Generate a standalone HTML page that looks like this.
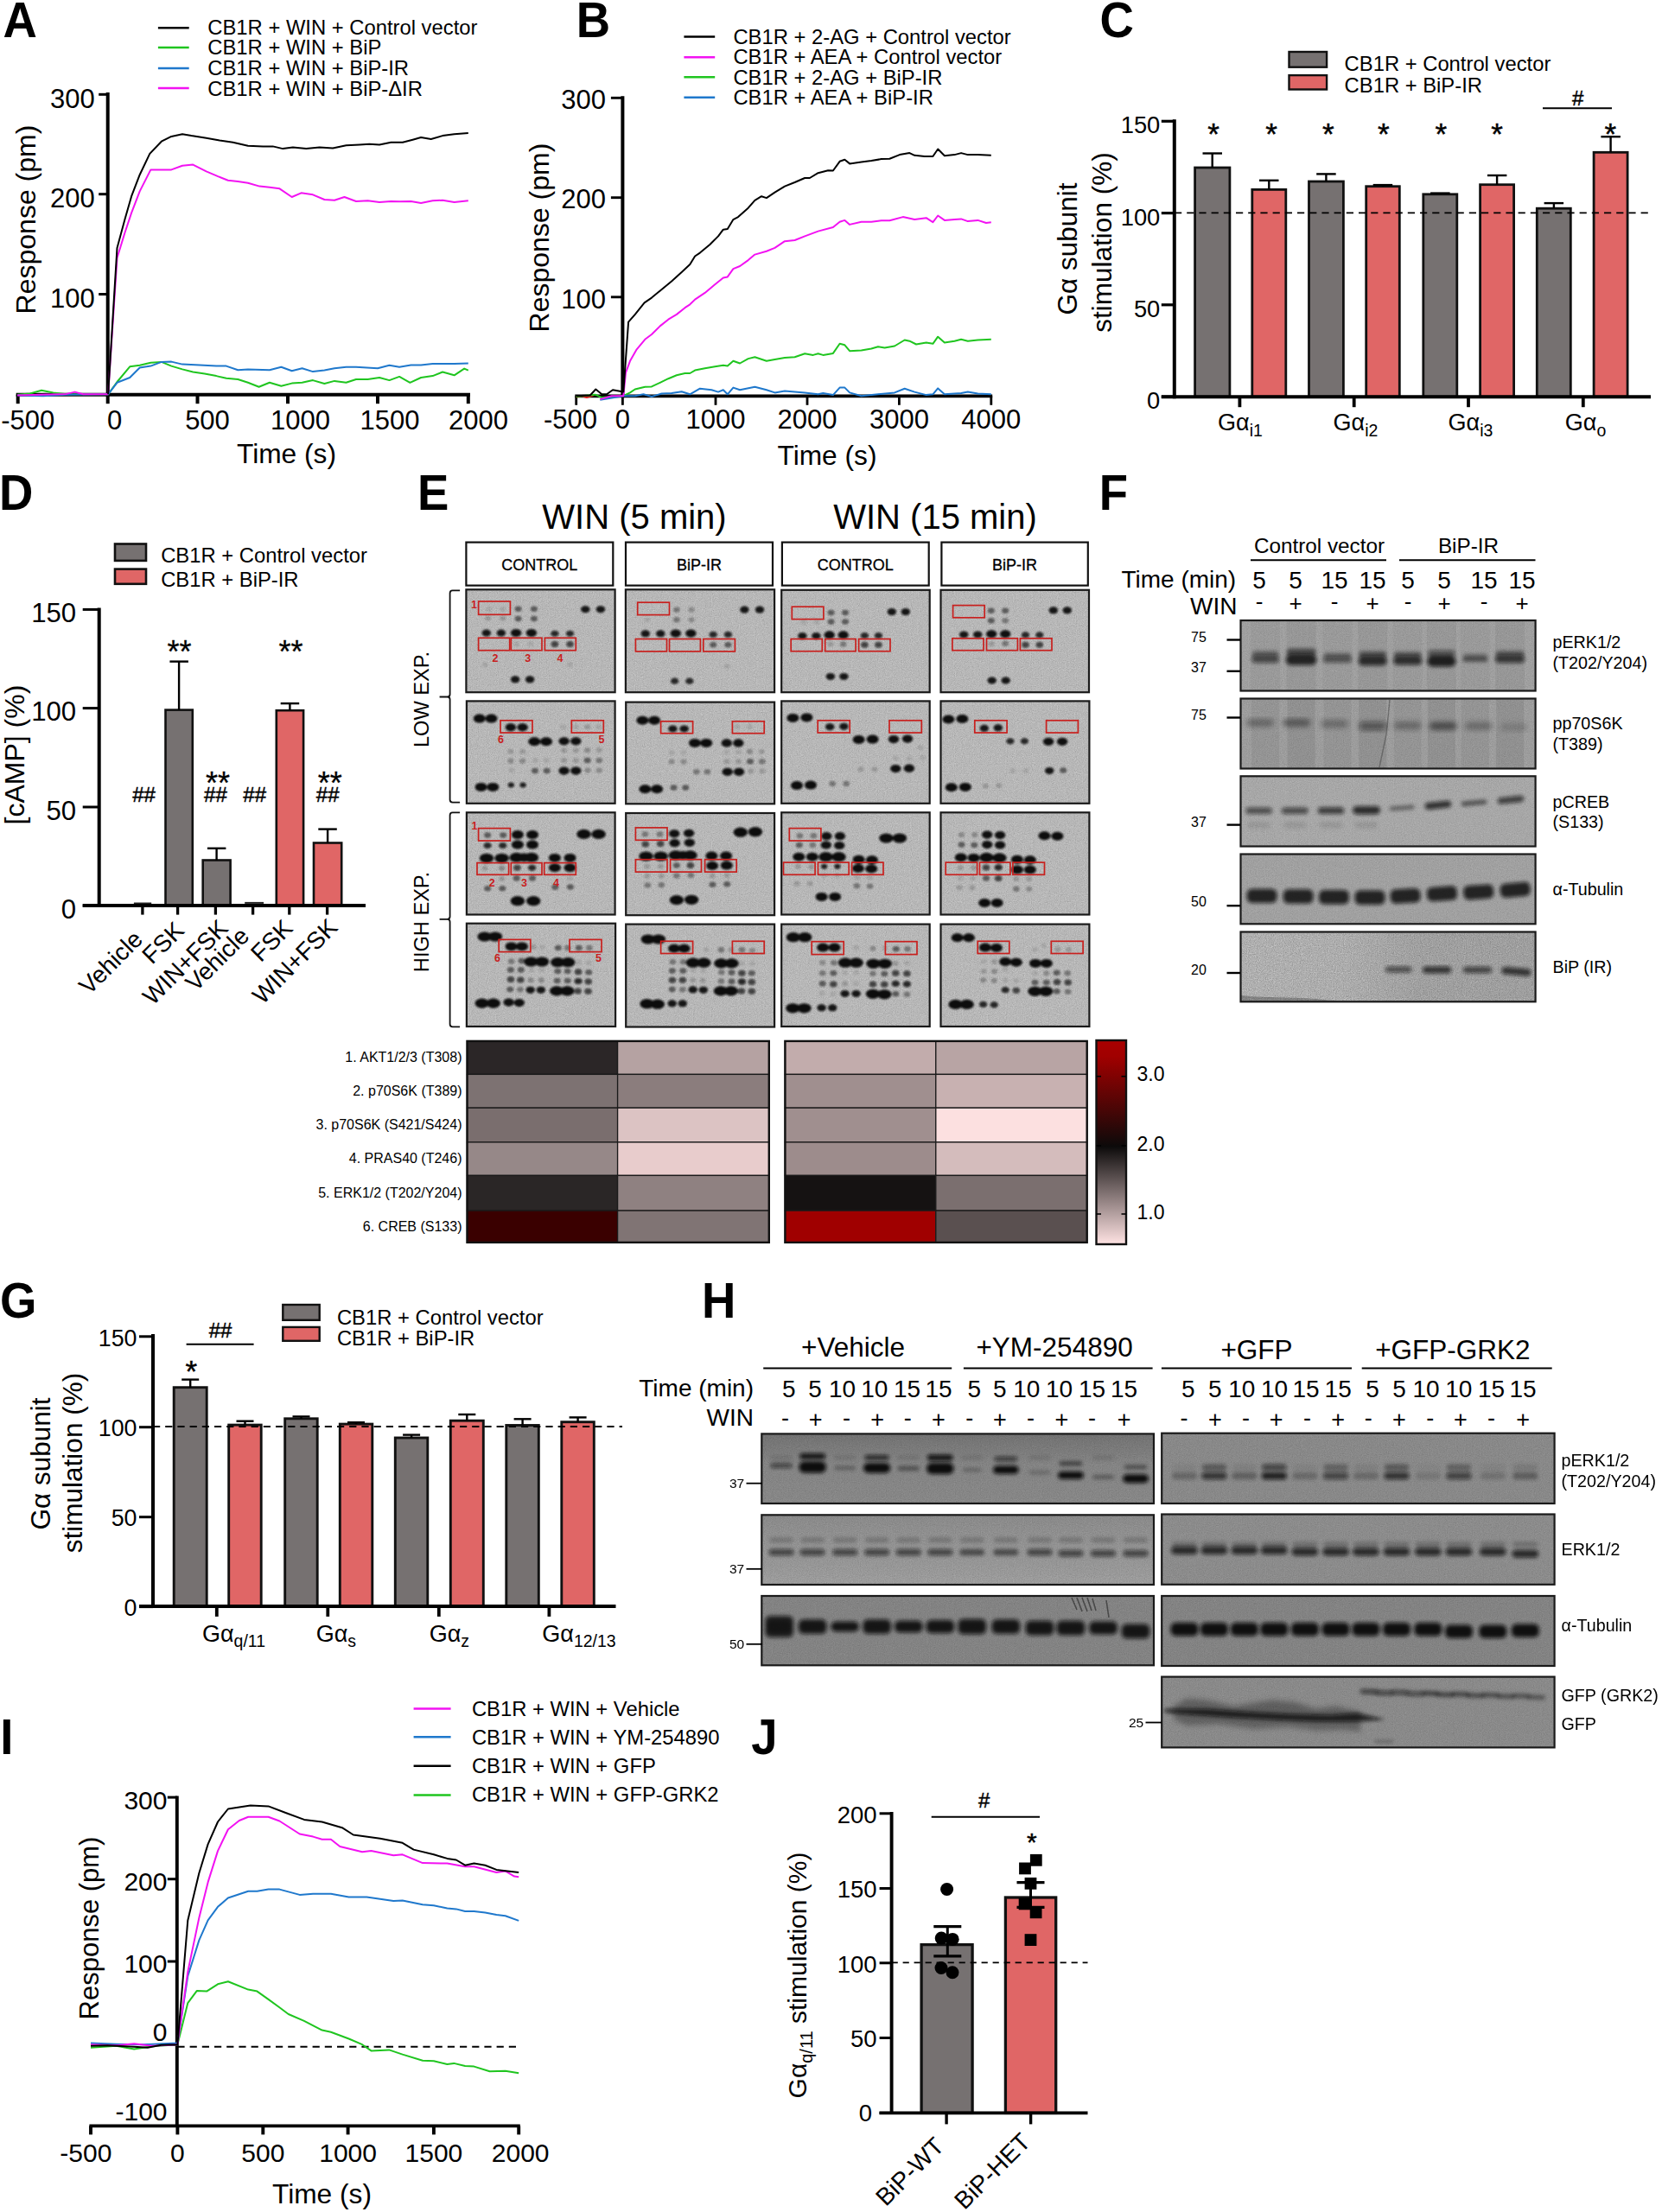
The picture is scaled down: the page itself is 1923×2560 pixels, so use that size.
<!DOCTYPE html>
<html lang="en"><head><meta charset="utf-8"><title>Figure</title>
<style>
html,body{margin:0;padding:0;background:#fff;}
body{width:1923px;height:2560px;overflow:hidden;}
svg{display:block;font-family:"Liberation Sans", sans-serif;}
</style></head><body>
<svg width="1923" height="2560" viewBox="0 0 1923 2560">
<defs>
<filter id="b1" x="-20%" y="-20%" width="140%" height="140%"><feGaussianBlur stdDeviation="1.1"/></filter>
<filter id="b2" x="-20%" y="-20%" width="140%" height="140%"><feGaussianBlur stdDeviation="2"/></filter>
<filter id="b3" x="-20%" y="-20%" width="140%" height="140%"><feGaussianBlur stdDeviation="3.2"/></filter>
<filter id="grain" x="0" y="0" width="100%" height="100%">
<feTurbulence type="fractalNoise" baseFrequency="0.9" numOctaves="2" seed="3" result="n"/>
<feColorMatrix in="n" type="matrix" values="0 0 0 0 0  0 0 0 0 0  0 0 0 0 0  0.9 0.9 0.9 0 -0.95" result="a"/>
<feComposite in="a" in2="SourceGraphic" operator="in"/>
</filter>
<filter id="grain2" x="0" y="0" width="100%" height="100%">
<feTurbulence type="fractalNoise" baseFrequency="0.9" numOctaves="2" seed="11" result="n"/>
<feColorMatrix in="n" type="matrix" values="0 0 0 0 1  0 0 0 0 1  0 0 0 0 1  0.9 0.9 0.9 0 -0.98" result="a"/>
<feComposite in="a" in2="SourceGraphic" operator="in"/>
</filter>
<linearGradient id="cbar" x1="0" y1="0" x2="0" y2="1">
<stop offset="0" stop-color="#a80000"/><stop offset="0.08" stop-color="#a00000"/>
<stop offset="0.52" stop-color="#0c0a0a"/><stop offset="1" stop-color="#ffe3e3"/>
</linearGradient>
</defs>
<rect width="1923" height="2560" fill="#fff"/>
<g id="panelA">
<text transform="translate(3.4 42.8) scale(0.96 1)" font-size="56.8" font-weight="bold">A</text>
<line x1="182.9" y1="32.3" x2="218.7" y2="32.3" stroke="#000" stroke-width="2.5"/>
<text x="240.3" y="39.7" font-size="23.8">CB1R + WIN + Control vector</text>
<line x1="182.9" y1="55.1" x2="218.7" y2="55.1" stroke="#1fc51f" stroke-width="2.5"/>
<text x="240.3" y="62.8" font-size="23.8">CB1R + WIN + BiP</text>
<line x1="182.9" y1="78.9" x2="218.7" y2="78.9" stroke="#1f78cc" stroke-width="2.5"/>
<text x="240.3" y="86.6" font-size="23.8">CB1R + WIN + BiP-IR</text>
<line x1="182.9" y1="102.0" x2="218.7" y2="102.0" stroke="#f212f2" stroke-width="2.5"/>
<text x="240.3" y="110.5" font-size="23.8">CB1R + WIN + BiP-ΔIR</text>
<line x1="124.7" y1="107.0" x2="124.7" y2="458.7" stroke="#000" stroke-width="4.0"/>
<line x1="18.7" y1="456.7" x2="544.0" y2="456.7" stroke="#000" stroke-width="4.0"/>
<line x1="114.2" y1="109.3" x2="124.7" y2="109.3" stroke="#000" stroke-width="3"/>
<text x="109.7" y="124.5" font-size="31" text-anchor="end">300</text>
<line x1="114.2" y1="224.7" x2="124.7" y2="224.7" stroke="#000" stroke-width="3"/>
<text x="109.7" y="239.9" font-size="31" text-anchor="end">200</text>
<line x1="114.2" y1="340.5" x2="124.7" y2="340.5" stroke="#000" stroke-width="3"/>
<text x="109.7" y="355.7" font-size="31" text-anchor="end">100</text>
<line x1="20.7" y1="456.7" x2="20.7" y2="467.2" stroke="#000" stroke-width="4.0"/>
<text x="32.3" y="497.0" font-size="31" text-anchor="middle">-500</text>
<line x1="124.7" y1="456.7" x2="124.7" y2="467.2" stroke="#000" stroke-width="4.0"/>
<text x="132.6" y="497.0" font-size="31" text-anchor="middle">0</text>
<line x1="228.5" y1="456.7" x2="228.5" y2="467.2" stroke="#000" stroke-width="4.0"/>
<text x="240.0" y="497.0" font-size="31" text-anchor="middle">500</text>
<line x1="333.0" y1="456.7" x2="333.0" y2="467.2" stroke="#000" stroke-width="4.0"/>
<text x="347.5" y="497.0" font-size="31" text-anchor="middle">1000</text>
<line x1="437.0" y1="456.7" x2="437.0" y2="467.2" stroke="#000" stroke-width="4.0"/>
<text x="451.0" y="497.0" font-size="31" text-anchor="middle">1500</text>
<line x1="541.8" y1="456.7" x2="541.8" y2="467.2" stroke="#000" stroke-width="4.0"/>
<text x="553.5" y="497.0" font-size="31" text-anchor="middle">2000</text>
<polyline points="20.0,456.7 34.7,455.5 48.1,451.7 61.6,454.4 77.0,456.3 125.1,456.3 135.5,442.0 150.2,424.3 161.7,422.8 174.4,419.7 186.8,418.9 198.3,423.6 211.0,427.4 223.3,430.5 236.8,432.4 250.3,435.1 261.8,437.8 275.3,439.0 286.9,442.8 299.6,447.8 311.9,442.8 325.4,446.7 337.7,443.6 349.6,442.8 362.0,440.1 375.4,444.0 387.0,440.9 400.5,442.8 412.0,439.0 425.5,439.0 439.0,437.0 450.5,440.1 462.1,435.9 474.4,442.8 487.1,437.0 500.6,435.1 512.1,430.5 525.6,434.3 537.2,426.6 541.8,428.6" fill="none" stroke="#1fc51f" stroke-width="2" stroke-linejoin="round"/>
<polyline points="20.0,457.5 50.1,458.2 77.0,456.7 125.1,456.3 135.5,442.8 150.2,437.0 161.7,425.5 174.4,423.6 186.8,418.9 198.3,418.6 211.0,421.6 231.0,422.4 250.3,423.6 261.8,423.6 275.3,428.2 286.9,427.4 311.9,428.2 325.4,424.7 337.7,429.3 349.6,426.3 362.0,430.1 375.4,428.6 387.0,426.3 400.5,424.7 412.0,424.7 437.0,426.3 450.5,422.8 462.1,424.7 475.5,422.4 487.1,422.4 500.6,420.9 525.6,420.9 541.8,420.5" fill="none" stroke="#1f78cc" stroke-width="2" stroke-linejoin="round"/>
<polyline points="20.0,457.5 77.0,455.9 86.6,453.6 96.3,456.3 125.1,456.3" fill="none" stroke="#f212f2" stroke-width="2" stroke-linejoin="round"/>
<polyline points="125.1,456.3 135.5,298.4 144.4,269.5 152.1,246.4 161.7,221.4 174.4,196.4 186.8,196.4 198.3,196.4 211.0,191.8 223.3,190.6 238.7,198.3 252.2,204.1 263.8,208.7 275.3,209.9 286.9,211.8 300.3,215.6 311.9,216.8 323.5,218.3 337.7,228.0 348.5,223.3 362.0,225.3 375.4,231.0 387.0,231.8 398.5,228.0 412.0,233.0 425.5,232.2 439.0,234.1 452.4,233.0 462.1,233.3 475.5,233.0 487.1,234.9 500.6,232.2 512.1,231.8 525.6,234.1 541.8,232.2" fill="none" stroke="#f212f2" stroke-width="2" stroke-linejoin="round"/>
<polyline points="125.1,456.3 135.5,286.9 144.4,254.1 152.1,227.2 161.7,202.2 173.3,177.9 186.8,163.7 198.3,157.9 211.0,155.2 221.4,157.1 238.7,159.8 254.1,162.5 269.5,164.8 286.9,168.7 304.2,169.4 315.7,169.4 327.3,172.1 338.9,170.6 354.3,172.1 369.7,170.6 385.1,171.4 400.5,168.3 415.9,167.5 427.4,166.7 439.0,167.5 452.4,164.8 465.9,164.8 477.5,161.7 487.1,159.0 498.7,161.0 512.1,157.1 525.6,155.2 541.8,154.0" fill="none" stroke="#000" stroke-width="2" stroke-linejoin="round"/>
<text x="331.5" y="535.5" font-size="31.7" text-anchor="middle">Time (s)</text>
<text x="41.0" y="254.0" font-size="32" text-anchor="middle" transform="rotate(-90 41.0 254.0)">Response (pm)</text>
</g>
<g id="panelB">
<text transform="translate(666.8 42.8) scale(0.96 1)" font-size="56.8" font-weight="bold">B</text>
<line x1="791.4" y1="42.4" x2="827.2" y2="42.4" stroke="#000" stroke-width="2.5"/>
<text x="848.4" y="50.8" font-size="23.8">CB1R + 2-AG + Control vector</text>
<line x1="791.4" y1="66.2" x2="827.2" y2="66.2" stroke="#f212f2" stroke-width="2.5"/>
<text x="848.4" y="74.3" font-size="23.8">CB1R + AEA + Control vector</text>
<line x1="791.4" y1="89.3" x2="827.2" y2="89.3" stroke="#1fc51f" stroke-width="2.5"/>
<text x="848.4" y="97.8" font-size="23.8">CB1R + 2-AG + BiP-IR</text>
<line x1="791.4" y1="112.8" x2="827.2" y2="112.8" stroke="#1f78cc" stroke-width="2.5"/>
<text x="848.4" y="120.5" font-size="23.8">CB1R + AEA + BiP-IR</text>
<line x1="720.4" y1="111.2" x2="720.4" y2="460.3" stroke="#000" stroke-width="4.0"/>
<line x1="665.3" y1="458.3" x2="1148.2" y2="458.3" stroke="#000" stroke-width="3.7"/>
<line x1="706.9" y1="113.3" x2="720.4" y2="113.3" stroke="#000" stroke-width="2.9"/>
<text x="700.9" y="126.0" font-size="31" text-anchor="end">300</text>
<line x1="706.9" y1="228.7" x2="720.4" y2="228.7" stroke="#000" stroke-width="2.9"/>
<text x="700.9" y="241.4" font-size="31" text-anchor="end">200</text>
<line x1="706.9" y1="343.8" x2="720.4" y2="343.8" stroke="#000" stroke-width="2.9"/>
<text x="700.9" y="356.5" font-size="31" text-anchor="end">100</text>
<line x1="666.7" y1="458.3" x2="666.7" y2="468.8" stroke="#000" stroke-width="2.8"/>
<text x="660.0" y="495.8" font-size="31" text-anchor="middle">-500</text>
<line x1="720.4" y1="458.3" x2="720.4" y2="468.8" stroke="#000" stroke-width="2.8"/>
<text x="720.4" y="495.8" font-size="31" text-anchor="middle">0</text>
<line x1="828.0" y1="458.3" x2="828.0" y2="468.8" stroke="#000" stroke-width="2.8"/>
<text x="828.0" y="495.8" font-size="31" text-anchor="middle">1000</text>
<line x1="934.0" y1="458.3" x2="934.0" y2="468.8" stroke="#000" stroke-width="2.8"/>
<text x="934.0" y="495.8" font-size="31" text-anchor="middle">2000</text>
<line x1="1040.4" y1="458.3" x2="1040.4" y2="468.8" stroke="#000" stroke-width="2.8"/>
<text x="1040.4" y="495.8" font-size="31" text-anchor="middle">3000</text>
<line x1="1146.8" y1="458.3" x2="1146.8" y2="468.8" stroke="#000" stroke-width="2.8"/>
<text x="1146.8" y="495.8" font-size="31" text-anchor="middle">4000</text>
<polyline points="666.6,459.4 673.2,458.2 678.9,460.1 686.6,457.5" fill="none" stroke="#e02020" stroke-width="2" stroke-linejoin="round"/>
<polyline points="666.6,459.0 688.6,456.7 696.3,460.1 721.3,458.2 729.0,454.4 734.8,450.5 746.3,447.8 754.0,447.4 763.7,442.8 773.3,438.2 782.9,434.3 792.5,432.0 798.3,432.0 804.1,428.6 815.6,426.3 827.2,424.3 836.8,422.8 841.8,423.6 848.4,417.8 856.1,420.5 865.7,415.1 873.4,413.2 886.9,417.8 896.5,415.9 908.0,413.9 919.6,413.2 931.2,409.3 940.8,410.9 946.6,409.3 952.3,410.9 963.9,408.9 971.6,397.8 977.4,399.3 983.1,406.2 996.6,405.5 1008.2,403.5 1015.9,401.2 1023.6,402.4 1035.1,400.5 1046.7,393.5 1052.4,394.7 1060.1,398.5 1071.7,396.6 1079.4,397.8 1085.2,389.7 1092.9,396.6 1104.4,394.7 1112.1,392.8 1119.8,394.7 1131.4,393.5 1146.8,392.8" fill="none" stroke="#1fc51f" stroke-width="2" stroke-linejoin="round"/>
<polyline points="694.3,462.8 721.3,458.2 734.8,458.2 744.4,456.3 754.0,459.0 765.6,455.5 777.1,455.1 788.7,453.2 798.3,456.3 809.9,449.7 823.3,451.3 831.0,453.6 836.8,451.3 841.8,456.3 848.4,448.6 856.1,451.3 873.4,447.8 886.9,451.3 896.5,454.4 908.0,452.4 931.2,454.4 946.6,456.3 952.3,455.1 963.9,457.1 971.6,448.6 977.4,448.6 983.1,454.4 996.6,458.2 1015.9,456.3 1035.1,454.4 1046.7,449.7 1058.2,453.6 1071.7,457.1 1079.4,456.3 1085.2,449.4 1092.9,456.3 1112.1,455.1 1119.8,453.6 1131.4,455.5 1146.8,456.3" fill="none" stroke="#1f78cc" stroke-width="2" stroke-linejoin="round"/>
<polyline points="694.3,462.1 707.8,458.2 721.3,458.2 724.0,431.3 729.0,417.8 736.7,404.3 746.3,392.8 754.0,387.0 763.7,377.4 773.3,369.7 782.9,363.9 792.5,356.2 798.3,352.3 804.1,346.6 815.6,338.9 827.2,329.2 836.8,321.5 841.8,320.4 848.4,311.1 856.1,308.0 865.7,301.1 873.4,294.6 886.9,290.7 896.5,286.9 908.0,279.2 919.6,278.0 931.2,273.4 946.6,267.6 963.9,263.0 971.6,256.8 977.4,254.9 983.1,259.9 996.6,256.8 1008.2,256.8 1019.7,255.3 1029.3,255.3 1044.7,251.1 1058.2,254.1 1071.7,252.2 1079.4,257.2 1085.2,249.5 1092.9,254.9 1104.4,254.1 1112.1,253.4 1119.8,256.1 1131.4,254.9 1141.0,258.0 1146.8,257.2" fill="none" stroke="#f212f2" stroke-width="2" stroke-linejoin="round"/>
<polyline points="666.6,458.2 682.8,457.5 689.3,450.5 696.3,456.3 702.0,456.3 709.0,451.3 721.3,453.6 727.1,372.7 734.8,363.9 745.6,350.4 754.0,344.6 765.6,335.0 777.1,325.4 788.7,315.0 798.3,306.1 804.1,296.5 809.9,292.6 821.4,283.0 831.0,273.4 836.8,265.7 841.8,264.9 848.4,254.1 854.1,251.1 865.7,240.7 873.4,231.8 881.1,227.2 886.9,229.1 896.5,222.6 908.0,215.6 919.6,211.0 931.2,206.0 936.9,206.0 946.6,200.2 958.1,197.2 963.9,197.5 971.6,186.8 977.4,184.8 983.1,189.4 996.6,187.5 1008.2,186.0 1019.7,184.1 1029.3,183.7 1040.9,179.1 1052.4,177.1 1058.2,179.8 1069.8,181.0 1079.4,181.0 1085.2,172.5 1092.9,180.2 1104.4,179.1 1112.1,177.1 1119.8,179.1 1131.4,179.1 1146.8,179.8" fill="none" stroke="#000" stroke-width="2" stroke-linejoin="round"/>
<text x="957.0" y="537.5" font-size="31.7" text-anchor="middle">Time (s)</text>
<text x="635.0" y="275.0" font-size="32" text-anchor="middle" transform="rotate(-90 635.0 275.0)">Response (pm)</text>
</g>
<g id="panelC">
<text transform="translate(1272.5 42.8) scale(0.96 1)" font-size="56.8" font-weight="bold">C</text>
<rect x="1491.5" y="60.0" width="43.6" height="17.7" fill="#767171" stroke="#111" stroke-width="2.4"/>
<rect x="1491.5" y="87.1" width="43.6" height="16.4" fill="#e06666" stroke="#111" stroke-width="2.4"/>
<text x="1555.6" y="81.5" font-size="23.8">CB1R + Control vector</text>
<text x="1555.6" y="106.5" font-size="23.8">CB1R + BiP-IR</text>
<rect x="1382.6" y="194.0" width="40.3" height="265.2" fill="#767171" stroke="#111" stroke-width="2.8"/>
<line x1="1402.7" y1="177.5" x2="1402.7" y2="194.0" stroke="#000" stroke-width="2.4"/>
<line x1="1391.5" y1="177.5" x2="1414.0" y2="177.5" stroke="#000" stroke-width="2.4"/>
<rect x="1448.8" y="219.4" width="39.0" height="239.8" fill="#e06666" stroke="#111" stroke-width="2.8"/>
<line x1="1468.3" y1="208.8" x2="1468.3" y2="219.4" stroke="#000" stroke-width="2.4"/>
<line x1="1457.0" y1="208.8" x2="1479.5" y2="208.8" stroke="#000" stroke-width="2.4"/>
<rect x="1514.5" y="210.0" width="39.9" height="249.2" fill="#767171" stroke="#111" stroke-width="2.8"/>
<line x1="1534.4" y1="201.4" x2="1534.4" y2="210.0" stroke="#000" stroke-width="2.4"/>
<line x1="1523.2" y1="201.4" x2="1545.7" y2="201.4" stroke="#000" stroke-width="2.4"/>
<rect x="1580.7" y="215.7" width="38.6" height="243.5" fill="#e06666" stroke="#111" stroke-width="2.8"/>
<line x1="1600.0" y1="214.1" x2="1600.0" y2="215.7" stroke="#000" stroke-width="2.4"/>
<line x1="1588.7" y1="214.1" x2="1611.2" y2="214.1" stroke="#000" stroke-width="2.4"/>
<rect x="1646.8" y="224.8" width="39.0" height="234.4" fill="#767171" stroke="#111" stroke-width="2.8"/>
<line x1="1666.4" y1="223.6" x2="1666.4" y2="224.8" stroke="#000" stroke-width="2.4"/>
<line x1="1655.1" y1="223.6" x2="1677.6" y2="223.6" stroke="#000" stroke-width="2.4"/>
<rect x="1712.6" y="213.7" width="39.0" height="245.5" fill="#e06666" stroke="#111" stroke-width="2.8"/>
<line x1="1732.1" y1="203.0" x2="1732.1" y2="213.7" stroke="#000" stroke-width="2.4"/>
<line x1="1720.9" y1="203.0" x2="1743.4" y2="203.0" stroke="#000" stroke-width="2.4"/>
<rect x="1778.3" y="241.2" width="39.0" height="218.0" fill="#767171" stroke="#111" stroke-width="2.8"/>
<line x1="1797.9" y1="235.1" x2="1797.9" y2="241.2" stroke="#000" stroke-width="2.4"/>
<line x1="1786.6" y1="235.1" x2="1809.1" y2="235.1" stroke="#000" stroke-width="2.4"/>
<rect x="1844.1" y="176.3" width="39.0" height="282.9" fill="#e06666" stroke="#111" stroke-width="2.8"/>
<line x1="1863.6" y1="158.2" x2="1863.6" y2="176.3" stroke="#000" stroke-width="2.4"/>
<line x1="1852.4" y1="158.2" x2="1874.9" y2="158.2" stroke="#000" stroke-width="2.4"/>
<line x1="1359.0" y1="246.4" x2="1910.0" y2="246.4" stroke="#000" stroke-width="1.9" stroke-dasharray="8.2 6"/>
<line x1="1358.8" y1="138.2" x2="1358.8" y2="461.2" stroke="#000" stroke-width="4.0"/>
<line x1="1343.8" y1="459.2" x2="1910.0" y2="459.2" stroke="#000" stroke-width="4.0"/>
<line x1="1343.8" y1="140.3" x2="1358.8" y2="140.3" stroke="#000" stroke-width="3.2"/>
<text x="1342.3" y="154.3" font-size="27.3" text-anchor="end">150</text>
<line x1="1343.8" y1="246.6" x2="1358.8" y2="246.6" stroke="#000" stroke-width="3.2"/>
<text x="1342.3" y="260.6" font-size="27.3" text-anchor="end">100</text>
<line x1="1343.8" y1="352.8" x2="1358.8" y2="352.8" stroke="#000" stroke-width="3.2"/>
<text x="1342.3" y="366.8" font-size="27.3" text-anchor="end">50</text>
<line x1="1343.8" y1="459.2" x2="1358.8" y2="459.2" stroke="#000" stroke-width="3.2"/>
<text x="1342.3" y="473.2" font-size="27.3" text-anchor="end">0</text>
<line x1="1434.4" y1="459.2" x2="1434.4" y2="471.2" stroke="#000" stroke-width="3.8"/>
<line x1="1566.7" y1="459.2" x2="1566.7" y2="471.2" stroke="#000" stroke-width="3.8"/>
<line x1="1699.0" y1="459.2" x2="1699.0" y2="471.2" stroke="#000" stroke-width="3.8"/>
<line x1="1831.8" y1="459.2" x2="1831.8" y2="471.2" stroke="#000" stroke-width="3.8"/>
<text x="1435.0" y="498.0" font-size="27" text-anchor="middle"><tspan>Gα</tspan><tspan font-size="19.5" dy="6.5">i1</tspan></text>
<text x="1568.5" y="498.0" font-size="27" text-anchor="middle"><tspan>Gα</tspan><tspan font-size="19.5" dy="6.5">i2</tspan></text>
<text x="1701.5" y="498.0" font-size="27" text-anchor="middle"><tspan>Gα</tspan><tspan font-size="19.5" dy="6.5">i3</tspan></text>
<text x="1834.5" y="498.0" font-size="27" text-anchor="middle"><tspan>Gα</tspan><tspan font-size="19.5" dy="6.5">o</tspan></text>
<text x="1404.0" y="167.3" font-size="35" text-anchor="middle" stroke="#000" stroke-width="0.45">*</text>
<text x="1471.0" y="167.3" font-size="35" text-anchor="middle" stroke="#000" stroke-width="0.45">*</text>
<text x="1536.7" y="167.3" font-size="35" text-anchor="middle" stroke="#000" stroke-width="0.45">*</text>
<text x="1600.8" y="167.3" font-size="35" text-anchor="middle" stroke="#000" stroke-width="0.45">*</text>
<text x="1667.4" y="167.3" font-size="35" text-anchor="middle" stroke="#000" stroke-width="0.45">*</text>
<text x="1732.0" y="167.3" font-size="35" text-anchor="middle" stroke="#000" stroke-width="0.45">*</text>
<text x="1863.4" y="167.3" font-size="35" text-anchor="middle" stroke="#000" stroke-width="0.45">*</text>
<text x="1825.6" y="121.5" font-size="24" text-anchor="middle" stroke="#000" stroke-width="0.45">#</text>
<line x1="1785.0" y1="125.3" x2="1865.0" y2="125.3" stroke="#000" stroke-width="2"/>
<text x="1245.5" y="288.0" font-size="31.5" text-anchor="middle" transform="rotate(-90 1245.5 288.0)">Gα subunit</text>
<text x="1286.0" y="280.5" font-size="31.5" text-anchor="middle" transform="rotate(-90 1286.0 280.5)">stimulation (%)</text>
</g>
<g id="panelD">
<text transform="translate(-1.1 590.0) scale(0.96 1)" font-size="56.8" font-weight="bold">D</text>
<rect x="133.0" y="629.5" width="36.0" height="19.4" fill="#767171" stroke="#111" stroke-width="2.6"/>
<rect x="133.0" y="658.6" width="36.0" height="17.2" fill="#e06666" stroke="#111" stroke-width="2.6"/>
<text x="186.2" y="651.4" font-size="23.8">CB1R + Control vector</text>
<text x="186.2" y="678.9" font-size="23.8">CB1R + BiP-IR</text>
<line x1="154.9" y1="1045.5" x2="175.2" y2="1045.5" stroke="#222" stroke-width="2"/>
<line x1="283.2" y1="1044.9" x2="305.1" y2="1044.9" stroke="#222" stroke-width="2"/>
<rect x="191.5" y="821.6" width="31.3" height="226.5" fill="#767171" stroke="#111" stroke-width="2.6"/>
<line x1="207.1" y1="765.6" x2="207.1" y2="821.6" stroke="#000" stroke-width="2.4"/>
<line x1="196.4" y1="765.6" x2="217.9" y2="765.6" stroke="#000" stroke-width="2.4"/>
<rect x="234.7" y="995.5" width="31.9" height="52.6" fill="#767171" stroke="#111" stroke-width="2.6"/>
<line x1="250.6" y1="981.8" x2="250.6" y2="995.5" stroke="#000" stroke-width="2.4"/>
<line x1="239.9" y1="981.8" x2="261.4" y2="981.8" stroke="#000" stroke-width="2.4"/>
<rect x="319.8" y="822.2" width="31.3" height="225.9" fill="#e06666" stroke="#111" stroke-width="2.6"/>
<line x1="335.4" y1="814.1" x2="335.4" y2="822.2" stroke="#000" stroke-width="2.4"/>
<line x1="324.7" y1="814.1" x2="346.2" y2="814.1" stroke="#000" stroke-width="2.4"/>
<rect x="363.0" y="975.5" width="32.2" height="72.6" fill="#e06666" stroke="#111" stroke-width="2.6"/>
<line x1="379.1" y1="959.6" x2="379.1" y2="975.5" stroke="#000" stroke-width="2.4"/>
<line x1="368.3" y1="959.6" x2="389.8" y2="959.6" stroke="#000" stroke-width="2.4"/>
<line x1="114.7" y1="703.4" x2="114.7" y2="1050.1" stroke="#000" stroke-width="4.0"/>
<line x1="95.7" y1="1048.1" x2="423.0" y2="1048.1" stroke="#000" stroke-width="4.0"/>
<line x1="95.7" y1="705.4" x2="114.7" y2="705.4" stroke="#000" stroke-width="3"/>
<text x="88.2" y="719.9" font-size="31.2" text-anchor="end">150</text>
<line x1="95.7" y1="819.6" x2="114.7" y2="819.6" stroke="#000" stroke-width="3"/>
<text x="88.2" y="834.1" font-size="31.2" text-anchor="end">100</text>
<line x1="95.7" y1="934.0" x2="114.7" y2="934.0" stroke="#000" stroke-width="3"/>
<text x="88.2" y="948.5" font-size="31.2" text-anchor="end">50</text>
<line x1="95.7" y1="1048.1" x2="114.7" y2="1048.1" stroke="#000" stroke-width="3"/>
<text x="88.2" y="1062.6" font-size="31.2" text-anchor="end">0</text>
<line x1="164.9" y1="1048.1" x2="164.9" y2="1058.6" stroke="#000" stroke-width="3.3"/>
<text x="166.9" y="1088.7" font-size="28" text-anchor="end" transform="rotate(-45 166.9 1088.7)">Vehicle</text>
<line x1="205.6" y1="1048.1" x2="205.6" y2="1058.6" stroke="#000" stroke-width="3.3"/>
<text x="214.6" y="1078.5" font-size="28" text-anchor="end" transform="rotate(-45 214.6 1078.5)">FSK</text>
<line x1="249.4" y1="1048.1" x2="249.4" y2="1058.6" stroke="#000" stroke-width="3.3"/>
<text x="265.4" y="1076.0" font-size="28" text-anchor="end" transform="rotate(-45 265.4 1076.0)">WIN+FSK</text>
<line x1="292.6" y1="1048.1" x2="292.6" y2="1058.6" stroke="#000" stroke-width="3.3"/>
<text x="290.0" y="1085.0" font-size="28" text-anchor="end" transform="rotate(-45 290.0 1085.0)">Vehicle</text>
<line x1="334.8" y1="1048.1" x2="334.8" y2="1058.6" stroke="#000" stroke-width="3.3"/>
<text x="340.3" y="1076.0" font-size="28" text-anchor="end" transform="rotate(-45 340.3 1076.0)">FSK</text>
<line x1="378.6" y1="1048.1" x2="378.6" y2="1058.6" stroke="#000" stroke-width="3.3"/>
<text x="392.2" y="1075.0" font-size="28" text-anchor="end" transform="rotate(-45 392.2 1075.0)">WIN+FSK</text>
<text x="207.4" y="766.5" font-size="36" text-anchor="middle" stroke="#000" stroke-width="0.3">**</text>
<text x="336.4" y="766.5" font-size="36" text-anchor="middle" stroke="#000" stroke-width="0.3">**</text>
<text x="251.9" y="919.0" font-size="36" text-anchor="middle" stroke="#000" stroke-width="0.3">**</text>
<text x="381.7" y="919.0" font-size="36" text-anchor="middle" stroke="#000" stroke-width="0.3">**</text>
<text x="166.5" y="928.0" font-size="24" text-anchor="middle" stroke="#000" stroke-width="0.45">##</text>
<text x="249.4" y="928.0" font-size="24" text-anchor="middle" stroke="#000" stroke-width="0.45">##</text>
<text x="294.7" y="928.0" font-size="24" text-anchor="middle" stroke="#000" stroke-width="0.45">##</text>
<text x="379.2" y="928.0" font-size="24" text-anchor="middle" stroke="#000" stroke-width="0.45">##</text>
<text x="27.5" y="873.5" font-size="32" text-anchor="middle" transform="rotate(-90 27.5 873.5)">[cAMP] (%)</text>
</g>
<g id="panelE">
<text transform="translate(483.0 590.0) scale(0.96 1)" font-size="56.8" font-weight="bold">E</text>
<text x="734.0" y="612.0" font-size="40" text-anchor="middle">WIN (5 min)</text>
<text x="1082.0" y="612.0" font-size="40" text-anchor="middle">WIN (15 min)</text>
<rect x="539.4" y="627.6" width="169.9" height="50.0" fill="#fff" stroke="#111" stroke-width="2.2"/>
<text x="624.3" y="659.5" font-size="18" text-anchor="middle" stroke="#000" stroke-width="0.3">CONTROL</text>
<rect x="724.0" y="627.6" width="170.0" height="50.0" fill="#fff" stroke="#111" stroke-width="2.2"/>
<text x="809.0" y="659.5" font-size="18" text-anchor="middle" stroke="#000" stroke-width="0.3">BiP-IR</text>
<rect x="904.9" y="627.6" width="169.8" height="50.0" fill="#fff" stroke="#111" stroke-width="2.2"/>
<text x="989.8" y="659.5" font-size="18" text-anchor="middle" stroke="#000" stroke-width="0.3">CONTROL</text>
<rect x="1089.4" y="627.6" width="169.4" height="50.0" fill="#fff" stroke="#111" stroke-width="2.2"/>
<text x="1174.1" y="659.5" font-size="18" text-anchor="middle" stroke="#000" stroke-width="0.3">BiP-IR</text>
<clipPath id="t1"><rect x="539.4" y="682.3" width="172.2" height="118.9"/></clipPath>
<rect x="539.4" y="682.3" width="172.2" height="118.9" fill="#bcbcbc"/>
<rect x="539.4" y="682.3" width="172.2" height="118.9" fill="#000" filter="url(#grain)" opacity="0.16"/>
<rect x="539.4" y="682.3" width="172.2" height="118.9" fill="#fff" filter="url(#grain2)" opacity="0.25"/>
<g clip-path="url(#t1)" filter="url(#b1)" fill="#0a0a0a">
<ellipse cx="565.7" cy="705.2" rx="3.4" ry="2.9" opacity="0.1"/>
<ellipse cx="581.7" cy="705.2" rx="3.4" ry="2.9" opacity="0.1"/>
<ellipse cx="599.6" cy="704.7" rx="4.0" ry="3.3" opacity="0.5"/>
<ellipse cx="617.9" cy="704.7" rx="4.0" ry="3.3" opacity="0.5"/>
<ellipse cx="677.3" cy="705.2" rx="5.2" ry="4.0" opacity="0.95"/>
<ellipse cx="694.9" cy="705.2" rx="5.2" ry="4.0" opacity="0.95"/>
<ellipse cx="564.6" cy="715.5" rx="3.5" ry="3.0" opacity="0.18"/>
<ellipse cx="581.7" cy="715.5" rx="3.5" ry="3.0" opacity="0.18"/>
<ellipse cx="599.6" cy="716.1" rx="4.0" ry="3.3" opacity="0.5"/>
<ellipse cx="617.9" cy="716.1" rx="4.0" ry="3.3" opacity="0.5"/>
<ellipse cx="562.8" cy="732.6" rx="5.2" ry="4.0" opacity="0.95"/>
<ellipse cx="579.9" cy="732.6" rx="5.2" ry="4.0" opacity="0.95"/>
<ellipse cx="597.1" cy="732.6" rx="6.2" ry="4.6" opacity="0.98"/>
<ellipse cx="614.9" cy="732.6" rx="6.2" ry="4.6" opacity="0.98"/>
<ellipse cx="641.9" cy="733.3" rx="4.6" ry="3.6" opacity="0.85"/>
<ellipse cx="659.5" cy="733.3" rx="4.6" ry="3.6" opacity="0.85"/>
<ellipse cx="597.7" cy="745.4" rx="3.4" ry="2.9" opacity="0.1"/>
<ellipse cx="613.7" cy="745.4" rx="3.4" ry="2.9" opacity="0.1"/>
<ellipse cx="641.9" cy="745.4" rx="4.2" ry="3.5" opacity="0.7"/>
<ellipse cx="659.5" cy="745.4" rx="4.2" ry="3.5" opacity="0.7"/>
<ellipse cx="561.2" cy="769.2" rx="3.4" ry="2.9" opacity="0.1"/>
<ellipse cx="659.5" cy="769.2" rx="3.4" ry="2.9" opacity="0.1"/>
<ellipse cx="596.1" cy="786.3" rx="5.2" ry="4.0" opacity="0.95"/>
<ellipse cx="613.1" cy="786.3" rx="5.2" ry="4.0" opacity="0.95"/>
</g>
<rect x="553.6" y="696.0" width="36.8" height="15.3" fill="none" stroke="#c8201e" stroke-width="1.7"/>
<rect x="553.6" y="738.3" width="36.1" height="14.4" fill="none" stroke="#c8201e" stroke-width="1.7"/>
<rect x="591.3" y="738.3" width="35.7" height="14.4" fill="none" stroke="#c8201e" stroke-width="1.7"/>
<rect x="630.4" y="738.3" width="35.9" height="14.4" fill="none" stroke="#c8201e" stroke-width="1.7"/>
<text x="548.6" y="704.0" font-size="12.5" text-anchor="middle" font-weight="bold" fill="#c8201e">1</text>
<text x="573.0" y="765.7" font-size="12.5" text-anchor="middle" font-weight="bold" fill="#c8201e">2</text>
<text x="610.8" y="765.7" font-size="12.5" text-anchor="middle" font-weight="bold" fill="#c8201e">3</text>
<text x="648.0" y="765.7" font-size="12.5" text-anchor="middle" font-weight="bold" fill="#c8201e">4</text>
<rect x="539.4" y="682.3" width="172.2" height="118.9" fill="none" stroke="#1a1a1a" stroke-width="2.2"/>
<clipPath id="t2"><rect x="723.9" y="682.3" width="172.2" height="118.9"/></clipPath>
<rect x="723.9" y="682.3" width="172.2" height="118.9" fill="#bcbcbc"/>
<rect x="723.9" y="682.3" width="172.2" height="118.9" fill="#000" filter="url(#grain)" opacity="0.16"/>
<rect x="723.9" y="682.3" width="172.2" height="118.9" fill="#fff" filter="url(#grain2)" opacity="0.25"/>
<g clip-path="url(#t2)" filter="url(#b1)" fill="#0a0a0a">
<ellipse cx="782.9" cy="705.6" rx="3.8" ry="3.2" opacity="0.36"/>
<ellipse cx="800.1" cy="705.6" rx="3.6" ry="3.1" opacity="0.26"/>
<ellipse cx="861.4" cy="705.6" rx="5.2" ry="4.0" opacity="0.95"/>
<ellipse cx="879.0" cy="705.6" rx="5.2" ry="4.0" opacity="0.95"/>
<ellipse cx="782.9" cy="717.3" rx="3.8" ry="3.2" opacity="0.36"/>
<ellipse cx="800.1" cy="717.3" rx="3.6" ry="3.1" opacity="0.26"/>
<ellipse cx="748.6" cy="717.1" rx="3.4" ry="2.9" opacity="0.1"/>
<ellipse cx="746.8" cy="733.3" rx="5.2" ry="4.0" opacity="0.95"/>
<ellipse cx="764.2" cy="733.3" rx="5.2" ry="4.0" opacity="0.95"/>
<ellipse cx="781.8" cy="733.1" rx="6.2" ry="4.6" opacity="0.98"/>
<ellipse cx="799.4" cy="733.1" rx="6.2" ry="4.6" opacity="0.98"/>
<ellipse cx="825.2" cy="734.4" rx="4.6" ry="3.6" opacity="0.85"/>
<ellipse cx="842.4" cy="734.4" rx="4.6" ry="3.6" opacity="0.85"/>
<ellipse cx="825.2" cy="746.3" rx="4.0" ry="3.3" opacity="0.5"/>
<ellipse cx="842.4" cy="746.3" rx="4.0" ry="3.3" opacity="0.5"/>
<ellipse cx="841.2" cy="771.0" rx="3.4" ry="2.9" opacity="0.1"/>
<ellipse cx="780.6" cy="788.2" rx="4.6" ry="3.6" opacity="0.85"/>
<ellipse cx="797.8" cy="788.2" rx="4.6" ry="3.6" opacity="0.85"/>
</g>
<rect x="737.7" y="697.2" width="36.8" height="14.4" fill="none" stroke="#c8201e" stroke-width="1.7"/>
<rect x="735.4" y="739.5" width="36.1" height="14.4" fill="none" stroke="#c8201e" stroke-width="1.7"/>
<rect x="774.5" y="739.5" width="35.9" height="14.4" fill="none" stroke="#c8201e" stroke-width="1.7"/>
<rect x="813.8" y="739.5" width="36.6" height="14.4" fill="none" stroke="#c8201e" stroke-width="1.7"/>
<rect x="723.9" y="682.3" width="172.2" height="118.9" fill="none" stroke="#1a1a1a" stroke-width="2.2"/>
<clipPath id="t3"><rect x="904.2" y="682.8" width="171.5" height="118.4"/></clipPath>
<rect x="904.2" y="682.8" width="171.5" height="118.4" fill="#bcbcbc"/>
<rect x="904.2" y="682.8" width="171.5" height="118.4" fill="#000" filter="url(#grain)" opacity="0.16"/>
<rect x="904.2" y="682.8" width="171.5" height="118.4" fill="#fff" filter="url(#grain2)" opacity="0.25"/>
<g clip-path="url(#t3)" filter="url(#b1)" fill="#0a0a0a">
<ellipse cx="961.6" cy="709.1" rx="4.0" ry="3.3" opacity="0.5"/>
<ellipse cx="978.0" cy="709.1" rx="4.0" ry="3.3" opacity="0.5"/>
<ellipse cx="1031.8" cy="708.1" rx="5.2" ry="4.0" opacity="0.95"/>
<ellipse cx="1047.8" cy="708.1" rx="5.2" ry="4.0" opacity="0.95"/>
<ellipse cx="930.0" cy="720.0" rx="3.4" ry="2.9" opacity="0.1"/>
<ellipse cx="944.9" cy="720.0" rx="3.4" ry="2.9" opacity="0.1"/>
<ellipse cx="961.6" cy="719.6" rx="4.0" ry="3.3" opacity="0.5"/>
<ellipse cx="978.0" cy="719.6" rx="4.0" ry="3.3" opacity="0.5"/>
<ellipse cx="928.4" cy="736.0" rx="5.2" ry="4.0" opacity="0.95"/>
<ellipse cx="944.4" cy="736.0" rx="5.2" ry="4.0" opacity="0.95"/>
<ellipse cx="959.7" cy="734.9" rx="6.2" ry="4.6" opacity="0.98"/>
<ellipse cx="975.7" cy="734.9" rx="6.2" ry="4.6" opacity="0.98"/>
<ellipse cx="1000.4" cy="735.6" rx="4.6" ry="3.6" opacity="0.85"/>
<ellipse cx="1016.4" cy="735.6" rx="4.6" ry="3.6" opacity="0.85"/>
<ellipse cx="960.9" cy="745.6" rx="3.5" ry="3.0" opacity="0.18"/>
<ellipse cx="975.7" cy="745.6" rx="3.8" ry="3.2" opacity="0.36"/>
<ellipse cx="1000.4" cy="746.3" rx="4.2" ry="3.5" opacity="0.7"/>
<ellipse cx="1016.4" cy="746.3" rx="4.2" ry="3.5" opacity="0.7"/>
<ellipse cx="960.9" cy="782.9" rx="5.2" ry="4.0" opacity="0.95"/>
<ellipse cx="976.4" cy="782.9" rx="5.2" ry="4.0" opacity="0.95"/>
</g>
<rect x="916.3" y="702.2" width="36.6" height="14.4" fill="none" stroke="#c8201e" stroke-width="1.7"/>
<rect x="915.2" y="739.5" width="36.1" height="14.2" fill="none" stroke="#c8201e" stroke-width="1.7"/>
<rect x="954.7" y="739.5" width="35.4" height="14.2" fill="none" stroke="#c8201e" stroke-width="1.7"/>
<rect x="993.6" y="739.5" width="36.4" height="14.2" fill="none" stroke="#c8201e" stroke-width="1.7"/>
<rect x="904.2" y="682.8" width="171.5" height="118.4" fill="none" stroke="#1a1a1a" stroke-width="2.2"/>
<clipPath id="t4"><rect x="1088.5" y="682.8" width="171.5" height="118.4"/></clipPath>
<rect x="1088.5" y="682.8" width="171.5" height="118.4" fill="#bcbcbc"/>
<rect x="1088.5" y="682.8" width="171.5" height="118.4" fill="#000" filter="url(#grain)" opacity="0.16"/>
<rect x="1088.5" y="682.8" width="171.5" height="118.4" fill="#fff" filter="url(#grain2)" opacity="0.25"/>
<g clip-path="url(#t4)" filter="url(#b1)" fill="#0a0a0a">
<ellipse cx="1146.8" cy="706.8" rx="4.0" ry="3.3" opacity="0.5"/>
<ellipse cx="1163.2" cy="706.8" rx="4.0" ry="3.3" opacity="0.5"/>
<ellipse cx="1218.8" cy="706.3" rx="5.2" ry="4.0" opacity="0.95"/>
<ellipse cx="1234.8" cy="706.3" rx="5.2" ry="4.0" opacity="0.95"/>
<ellipse cx="1146.8" cy="718.2" rx="4.0" ry="3.3" opacity="0.5"/>
<ellipse cx="1163.2" cy="718.2" rx="3.8" ry="3.2" opacity="0.36"/>
<ellipse cx="1115.2" cy="734.4" rx="5.2" ry="4.0" opacity="0.95"/>
<ellipse cx="1131.2" cy="734.4" rx="5.2" ry="4.0" opacity="0.95"/>
<ellipse cx="1147.2" cy="733.8" rx="6.2" ry="4.6" opacity="0.98"/>
<ellipse cx="1163.2" cy="733.8" rx="6.2" ry="4.6" opacity="0.98"/>
<ellipse cx="1186.5" cy="734.9" rx="4.6" ry="3.6" opacity="0.85"/>
<ellipse cx="1202.8" cy="734.9" rx="4.6" ry="3.6" opacity="0.85"/>
<ellipse cx="1147.2" cy="745.2" rx="3.5" ry="3.0" opacity="0.18"/>
<ellipse cx="1163.2" cy="744.7" rx="3.8" ry="3.2" opacity="0.36"/>
<ellipse cx="1186.5" cy="746.3" rx="4.2" ry="3.5" opacity="0.7"/>
<ellipse cx="1202.8" cy="746.3" rx="4.2" ry="3.5" opacity="0.7"/>
<ellipse cx="1147.7" cy="787.5" rx="5.2" ry="4.0" opacity="0.95"/>
<ellipse cx="1163.7" cy="787.5" rx="5.2" ry="4.0" opacity="0.95"/>
</g>
<rect x="1102.6" y="700.6" width="36.6" height="14.2" fill="none" stroke="#c8201e" stroke-width="1.7"/>
<rect x="1101.9" y="738.8" width="36.1" height="13.9" fill="none" stroke="#c8201e" stroke-width="1.7"/>
<rect x="1141.5" y="738.8" width="35.9" height="13.9" fill="none" stroke="#c8201e" stroke-width="1.7"/>
<rect x="1180.4" y="738.8" width="36.6" height="13.9" fill="none" stroke="#c8201e" stroke-width="1.7"/>
<rect x="1088.5" y="682.8" width="171.5" height="118.4" fill="none" stroke="#1a1a1a" stroke-width="2.2"/>
<clipPath id="t5"><rect x="539.9" y="811.4" width="171.7" height="118.4"/></clipPath>
<rect x="539.9" y="811.4" width="171.7" height="118.4" fill="#bcbcbc"/>
<rect x="539.9" y="811.4" width="171.7" height="118.4" fill="#000" filter="url(#grain)" opacity="0.16"/>
<rect x="539.9" y="811.4" width="171.7" height="118.4" fill="#fff" filter="url(#grain2)" opacity="0.25"/>
<g clip-path="url(#t5)" filter="url(#b1)" fill="#0a0a0a">
<ellipse cx="554.8" cy="831.6" rx="7.0" ry="5.0" opacity="1.0"/>
<ellipse cx="568.5" cy="831.6" rx="7.0" ry="5.0" opacity="1.0"/>
<ellipse cx="590.9" cy="841.8" rx="6.2" ry="4.6" opacity="0.98"/>
<ellipse cx="604.6" cy="841.8" rx="6.2" ry="4.6" opacity="0.98"/>
<ellipse cx="618.3" cy="858.3" rx="7.0" ry="5.0" opacity="1.0"/>
<ellipse cx="632.0" cy="858.3" rx="7.0" ry="5.0" opacity="1.0"/>
<ellipse cx="652.6" cy="857.8" rx="6.2" ry="4.6" opacity="0.98"/>
<ellipse cx="666.3" cy="857.8" rx="6.2" ry="4.6" opacity="0.98"/>
<ellipse cx="590.9" cy="869.7" rx="3.5" ry="3.0" opacity="0.18"/>
<ellipse cx="604.6" cy="869.7" rx="3.5" ry="3.0" opacity="0.18"/>
<ellipse cx="652.6" cy="868.6" rx="3.5" ry="3.0" opacity="0.18"/>
<ellipse cx="666.3" cy="868.6" rx="3.5" ry="3.0" opacity="0.18"/>
<ellipse cx="679.6" cy="868.1" rx="3.6" ry="3.1" opacity="0.26"/>
<ellipse cx="693.3" cy="868.1" rx="3.5" ry="3.0" opacity="0.18"/>
<ellipse cx="590.9" cy="880.7" rx="3.6" ry="3.1" opacity="0.26"/>
<ellipse cx="604.6" cy="880.7" rx="3.6" ry="3.1" opacity="0.26"/>
<ellipse cx="619.5" cy="880.0" rx="3.4" ry="2.9" opacity="0.1"/>
<ellipse cx="632.0" cy="880.0" rx="3.4" ry="2.9" opacity="0.1"/>
<ellipse cx="652.6" cy="880.0" rx="3.5" ry="3.0" opacity="0.18"/>
<ellipse cx="666.3" cy="880.0" rx="3.5" ry="3.0" opacity="0.18"/>
<ellipse cx="679.6" cy="880.0" rx="4.0" ry="3.3" opacity="0.5"/>
<ellipse cx="693.3" cy="880.0" rx="3.8" ry="3.2" opacity="0.36"/>
<ellipse cx="592.0" cy="891.5" rx="3.4" ry="2.9" opacity="0.1"/>
<ellipse cx="619.0" cy="892.1" rx="4.0" ry="3.3" opacity="0.5"/>
<ellipse cx="632.7" cy="892.1" rx="4.0" ry="3.3" opacity="0.5"/>
<ellipse cx="652.6" cy="892.1" rx="6.2" ry="4.6" opacity="0.98"/>
<ellipse cx="666.3" cy="892.1" rx="6.2" ry="4.6" opacity="0.98"/>
<ellipse cx="680.0" cy="891.5" rx="3.6" ry="3.1" opacity="0.26"/>
<ellipse cx="693.3" cy="891.5" rx="3.6" ry="3.1" opacity="0.26"/>
<ellipse cx="556.6" cy="910.9" rx="7.0" ry="5.0" opacity="1.0"/>
<ellipse cx="570.3" cy="910.9" rx="7.0" ry="5.0" opacity="1.0"/>
<ellipse cx="591.3" cy="908.6" rx="3.6" ry="3.0" opacity="0.9"/>
<ellipse cx="605.1" cy="908.6" rx="3.6" ry="3.0" opacity="0.9"/>
<ellipse cx="651.5" cy="841.2" rx="3.4" ry="2.9" opacity="0.1"/>
<ellipse cx="666.3" cy="841.2" rx="3.4" ry="2.9" opacity="0.1"/>
<ellipse cx="679.6" cy="841.2" rx="3.5" ry="3.0" opacity="0.18"/>
<ellipse cx="692.6" cy="841.2" rx="3.4" ry="2.9" opacity="0.1"/>
</g>
<rect x="579.0" y="833.8" width="37.0" height="14.2" fill="none" stroke="#c8201e" stroke-width="1.7"/>
<rect x="661.3" y="833.8" width="37.0" height="14.2" fill="none" stroke="#c8201e" stroke-width="1.7"/>
<text x="579.4" y="860.1" font-size="12.5" text-anchor="middle" font-weight="bold" fill="#c8201e">6</text>
<text x="696.1" y="860.1" font-size="12.5" text-anchor="middle" font-weight="bold" fill="#c8201e">5</text>
<rect x="539.9" y="811.4" width="171.7" height="118.4" fill="none" stroke="#1a1a1a" stroke-width="2.2"/>
<clipPath id="t6"><rect x="724.2" y="812.6" width="171.9" height="117.7"/></clipPath>
<rect x="724.2" y="812.6" width="171.9" height="117.7" fill="#bcbcbc"/>
<rect x="724.2" y="812.6" width="171.9" height="117.7" fill="#000" filter="url(#grain)" opacity="0.16"/>
<rect x="724.2" y="812.6" width="171.9" height="117.7" fill="#fff" filter="url(#grain2)" opacity="0.25"/>
<g clip-path="url(#t6)" filter="url(#b1)" fill="#0a0a0a">
<ellipse cx="743.4" cy="833.8" rx="7.0" ry="5.0" opacity="1.0"/>
<ellipse cx="757.1" cy="833.8" rx="7.0" ry="5.0" opacity="1.0"/>
<ellipse cx="778.4" cy="843.4" rx="5.2" ry="4.0" opacity="0.95"/>
<ellipse cx="791.6" cy="843.4" rx="5.2" ry="4.0" opacity="0.95"/>
<ellipse cx="804.0" cy="859.9" rx="7.0" ry="5.0" opacity="1.0"/>
<ellipse cx="817.2" cy="859.9" rx="7.0" ry="5.0" opacity="1.0"/>
<ellipse cx="840.8" cy="859.9" rx="6.2" ry="4.6" opacity="0.98"/>
<ellipse cx="854.3" cy="859.9" rx="6.2" ry="4.6" opacity="0.98"/>
<ellipse cx="777.2" cy="870.9" rx="3.4" ry="2.9" opacity="0.1"/>
<ellipse cx="790.9" cy="870.9" rx="3.4" ry="2.9" opacity="0.1"/>
<ellipse cx="840.8" cy="870.4" rx="3.4" ry="2.9" opacity="0.1"/>
<ellipse cx="854.3" cy="870.4" rx="3.4" ry="2.9" opacity="0.1"/>
<ellipse cx="867.5" cy="869.7" rx="3.6" ry="3.1" opacity="0.26"/>
<ellipse cx="881.3" cy="869.7" rx="3.5" ry="3.0" opacity="0.18"/>
<ellipse cx="777.2" cy="881.6" rx="3.6" ry="3.1" opacity="0.26"/>
<ellipse cx="790.9" cy="881.6" rx="3.6" ry="3.1" opacity="0.26"/>
<ellipse cx="840.8" cy="881.2" rx="3.5" ry="3.0" opacity="0.18"/>
<ellipse cx="854.3" cy="881.2" rx="3.5" ry="3.0" opacity="0.18"/>
<ellipse cx="868.0" cy="881.2" rx="4.0" ry="3.3" opacity="0.5"/>
<ellipse cx="881.7" cy="881.2" rx="3.8" ry="3.2" opacity="0.36"/>
<ellipse cx="805.8" cy="893.3" rx="3.8" ry="3.2" opacity="0.36"/>
<ellipse cx="818.4" cy="893.3" rx="3.8" ry="3.2" opacity="0.36"/>
<ellipse cx="841.7" cy="893.3" rx="6.2" ry="4.6" opacity="0.98"/>
<ellipse cx="855.0" cy="893.3" rx="6.2" ry="4.6" opacity="0.98"/>
<ellipse cx="868.7" cy="892.6" rx="3.5" ry="3.0" opacity="0.18"/>
<ellipse cx="881.9" cy="892.6" rx="3.5" ry="3.0" opacity="0.18"/>
<ellipse cx="746.4" cy="913.2" rx="7.0" ry="5.0" opacity="1.0"/>
<ellipse cx="760.1" cy="913.2" rx="7.0" ry="5.0" opacity="1.0"/>
<ellipse cx="779.5" cy="911.6" rx="4.0" ry="3.3" opacity="0.5"/>
<ellipse cx="793.2" cy="911.6" rx="4.0" ry="3.3" opacity="0.5"/>
<ellipse cx="852.7" cy="841.2" rx="3.4" ry="2.9" opacity="0.1"/>
<ellipse cx="867.5" cy="841.2" rx="3.4" ry="2.9" opacity="0.1"/>
</g>
<rect x="764.6" y="834.8" width="37.0" height="13.9" fill="none" stroke="#c8201e" stroke-width="1.7"/>
<rect x="847.4" y="834.8" width="36.8" height="13.9" fill="none" stroke="#c8201e" stroke-width="1.7"/>
<rect x="724.2" y="812.6" width="171.9" height="117.7" fill="none" stroke="#1a1a1a" stroke-width="2.2"/>
<clipPath id="t7"><rect x="904.2" y="811.4" width="171.5" height="118.4"/></clipPath>
<rect x="904.2" y="811.4" width="171.5" height="118.4" fill="#bcbcbc"/>
<rect x="904.2" y="811.4" width="171.5" height="118.4" fill="#000" filter="url(#grain)" opacity="0.16"/>
<rect x="904.2" y="811.4" width="171.5" height="118.4" fill="#fff" filter="url(#grain2)" opacity="0.25"/>
<g clip-path="url(#t7)" filter="url(#b1)" fill="#0a0a0a">
<ellipse cx="917.4" cy="830.9" rx="7.0" ry="5.0" opacity="1.0"/>
<ellipse cx="933.4" cy="830.4" rx="7.0" ry="5.0" opacity="1.0"/>
<ellipse cx="960.2" cy="841.2" rx="5.2" ry="4.0" opacity="0.95"/>
<ellipse cx="976.4" cy="840.7" rx="5.2" ry="4.0" opacity="0.95"/>
<ellipse cx="993.6" cy="856.0" rx="7.0" ry="5.0" opacity="1.0"/>
<ellipse cx="1009.6" cy="855.6" rx="7.0" ry="5.0" opacity="1.0"/>
<ellipse cx="1034.0" cy="855.6" rx="6.2" ry="4.6" opacity="0.98"/>
<ellipse cx="1050.0" cy="855.1" rx="6.2" ry="4.6" opacity="0.98"/>
<ellipse cx="995.9" cy="890.3" rx="3.5" ry="3.0" opacity="0.18"/>
<ellipse cx="1011.9" cy="890.3" rx="3.5" ry="3.0" opacity="0.18"/>
<ellipse cx="1036.3" cy="889.6" rx="6.2" ry="4.6" opacity="0.98"/>
<ellipse cx="1051.9" cy="889.2" rx="6.2" ry="4.6" opacity="0.98"/>
<ellipse cx="922.0" cy="909.1" rx="7.0" ry="5.0" opacity="1.0"/>
<ellipse cx="938.0" cy="908.6" rx="7.0" ry="5.0" opacity="1.0"/>
<ellipse cx="963.2" cy="907.0" rx="3.8" ry="3.2" opacity="0.36"/>
<ellipse cx="979.2" cy="907.0" rx="3.8" ry="3.2" opacity="0.36"/>
<ellipse cx="1064.9" cy="865.2" rx="3.4" ry="2.9" opacity="0.1"/>
<ellipse cx="1067.2" cy="876.6" rx="3.4" ry="2.9" opacity="0.1"/>
<ellipse cx="1036.3" cy="877.7" rx="3.4" ry="2.9" opacity="0.1"/>
<ellipse cx="1052.3" cy="877.7" rx="3.4" ry="2.9" opacity="0.1"/>
</g>
<rect x="946.2" y="833.8" width="37.0" height="14.2" fill="none" stroke="#c8201e" stroke-width="1.7"/>
<rect x="1029.0" y="833.8" width="37.3" height="14.2" fill="none" stroke="#c8201e" stroke-width="1.7"/>
<rect x="904.2" y="811.4" width="171.5" height="118.4" fill="none" stroke="#1a1a1a" stroke-width="2.2"/>
<clipPath id="t8"><rect x="1088.5" y="811.4" width="171.9" height="118.4"/></clipPath>
<rect x="1088.5" y="811.4" width="171.9" height="118.4" fill="#bcbcbc"/>
<rect x="1088.5" y="811.4" width="171.9" height="118.4" fill="#000" filter="url(#grain)" opacity="0.16"/>
<rect x="1088.5" y="811.4" width="171.9" height="118.4" fill="#fff" filter="url(#grain2)" opacity="0.25"/>
<g clip-path="url(#t8)" filter="url(#b1)" fill="#0a0a0a">
<ellipse cx="1097.4" cy="832.5" rx="7.0" ry="5.0" opacity="1.0"/>
<ellipse cx="1113.4" cy="832.0" rx="7.0" ry="5.0" opacity="1.0"/>
<ellipse cx="1138.8" cy="842.8" rx="5.2" ry="4.0" opacity="0.95"/>
<ellipse cx="1154.8" cy="842.3" rx="5.2" ry="4.0" opacity="0.95"/>
<ellipse cx="1168.9" cy="857.8" rx="4.6" ry="3.6" opacity="0.85"/>
<ellipse cx="1185.4" cy="857.8" rx="4.6" ry="3.6" opacity="0.85"/>
<ellipse cx="1213.1" cy="858.3" rx="6.2" ry="4.6" opacity="0.98"/>
<ellipse cx="1229.1" cy="858.3" rx="6.2" ry="4.6" opacity="0.98"/>
<ellipse cx="1171.7" cy="891.9" rx="3.4" ry="2.9" opacity="0.1"/>
<ellipse cx="1187.2" cy="891.9" rx="3.4" ry="2.9" opacity="0.1"/>
<ellipse cx="1214.2" cy="891.9" rx="5.2" ry="4.0" opacity="0.95"/>
<ellipse cx="1230.2" cy="891.5" rx="4.0" ry="3.3" opacity="0.5"/>
<ellipse cx="1100.8" cy="911.3" rx="7.0" ry="5.0" opacity="1.0"/>
<ellipse cx="1116.8" cy="910.9" rx="7.0" ry="5.0" opacity="1.0"/>
<ellipse cx="1140.4" cy="909.7" rx="3.5" ry="3.0" opacity="0.18"/>
<ellipse cx="1155.7" cy="909.3" rx="3.5" ry="3.0" opacity="0.18"/>
</g>
<rect x="1127.8" y="833.8" width="37.3" height="14.2" fill="none" stroke="#c8201e" stroke-width="1.7"/>
<rect x="1210.6" y="833.8" width="36.8" height="14.2" fill="none" stroke="#c8201e" stroke-width="1.7"/>
<rect x="1088.5" y="811.4" width="171.9" height="118.4" fill="none" stroke="#1a1a1a" stroke-width="2.2"/>
<clipPath id="t9"><rect x="539.9" y="940.3" width="171.7" height="118.2"/></clipPath>
<rect x="539.9" y="940.3" width="171.7" height="118.2" fill="#bcbcbc"/>
<rect x="539.9" y="940.3" width="171.7" height="118.2" fill="#000" filter="url(#grain)" opacity="0.16"/>
<rect x="539.9" y="940.3" width="171.7" height="118.2" fill="#fff" filter="url(#grain2)" opacity="0.25"/>
<g clip-path="url(#t9)" filter="url(#b1)" fill="#0a0a0a">
<ellipse cx="564.1" cy="966.6" rx="4.0" ry="3.3" opacity="0.5"/>
<ellipse cx="582.2" cy="966.6" rx="4.0" ry="3.3" opacity="0.5"/>
<ellipse cx="598.9" cy="966.1" rx="7.0" ry="5.0" opacity="1.0"/>
<ellipse cx="616.0" cy="966.1" rx="7.0" ry="5.0" opacity="1.0"/>
<ellipse cx="675.5" cy="965.4" rx="8.2" ry="5.6" opacity="1.0"/>
<ellipse cx="692.6" cy="965.4" rx="8.2" ry="5.6" opacity="1.0"/>
<ellipse cx="564.1" cy="978.5" rx="4.6" ry="3.6" opacity="0.85"/>
<ellipse cx="581.7" cy="978.5" rx="4.6" ry="3.6" opacity="0.85"/>
<ellipse cx="598.9" cy="977.6" rx="7.0" ry="5.0" opacity="1.0"/>
<ellipse cx="616.0" cy="977.6" rx="7.0" ry="5.0" opacity="1.0"/>
<ellipse cx="563.0" cy="993.3" rx="8.2" ry="5.6" opacity="1.0"/>
<ellipse cx="580.6" cy="993.3" rx="8.2" ry="5.6" opacity="1.0"/>
<ellipse cx="597.7" cy="992.4" rx="8.2" ry="5.6" opacity="1.0"/>
<ellipse cx="614.9" cy="992.4" rx="8.2" ry="5.6" opacity="1.0"/>
<ellipse cx="606.4" cy="992.4" rx="7.0" ry="5.0" opacity="1.0"/>
<ellipse cx="641.9" cy="992.9" rx="7.0" ry="5.0" opacity="1.0"/>
<ellipse cx="659.5" cy="992.9" rx="7.0" ry="5.0" opacity="1.0"/>
<ellipse cx="561.2" cy="1004.8" rx="3.5" ry="3.0" opacity="0.18"/>
<ellipse cx="580.6" cy="1004.8" rx="3.6" ry="3.1" opacity="0.26"/>
<ellipse cx="598.4" cy="1004.3" rx="4.2" ry="3.5" opacity="0.7"/>
<ellipse cx="615.6" cy="1004.3" rx="4.6" ry="3.6" opacity="0.85"/>
<ellipse cx="641.9" cy="1004.3" rx="7.0" ry="5.0" opacity="1.0"/>
<ellipse cx="659.5" cy="1004.3" rx="7.0" ry="5.0" opacity="1.0"/>
<ellipse cx="580.6" cy="1016.9" rx="3.5" ry="3.0" opacity="0.18"/>
<ellipse cx="597.7" cy="1016.4" rx="4.0" ry="3.3" opacity="0.5"/>
<ellipse cx="616.0" cy="1016.4" rx="4.0" ry="3.3" opacity="0.5"/>
<ellipse cx="659.5" cy="1016.4" rx="3.4" ry="2.9" opacity="0.1"/>
<ellipse cx="564.1" cy="1028.3" rx="4.0" ry="3.3" opacity="0.5"/>
<ellipse cx="581.3" cy="1028.3" rx="4.0" ry="3.3" opacity="0.5"/>
<ellipse cx="642.3" cy="1026.7" rx="4.0" ry="3.3" opacity="0.5"/>
<ellipse cx="659.9" cy="1026.5" rx="4.0" ry="3.3" opacity="0.5"/>
<ellipse cx="598.9" cy="1042.7" rx="8.2" ry="5.6" opacity="1.0"/>
<ellipse cx="617.2" cy="1042.7" rx="8.2" ry="5.6" opacity="1.0"/>
</g>
<rect x="553.6" y="958.6" width="36.8" height="14.4" fill="none" stroke="#c8201e" stroke-width="1.7"/>
<rect x="552.0" y="998.6" width="36.6" height="13.7" fill="none" stroke="#c8201e" stroke-width="1.7"/>
<rect x="591.3" y="998.6" width="35.7" height="13.7" fill="none" stroke="#c8201e" stroke-width="1.7"/>
<rect x="629.7" y="998.6" width="36.6" height="13.7" fill="none" stroke="#c8201e" stroke-width="1.7"/>
<text x="549.0" y="960.1" font-size="12.5" text-anchor="middle" font-weight="bold" fill="#c8201e">1</text>
<text x="569.2" y="1025.5" font-size="12.5" text-anchor="middle" font-weight="bold" fill="#c8201e">2</text>
<text x="606.4" y="1025.5" font-size="12.5" text-anchor="middle" font-weight="bold" fill="#c8201e">3</text>
<text x="643.5" y="1025.5" font-size="12.5" text-anchor="middle" font-weight="bold" fill="#c8201e">4</text>
<rect x="539.9" y="940.3" width="171.7" height="118.2" fill="none" stroke="#1a1a1a" stroke-width="2.2"/>
<clipPath id="t10"><rect x="724.2" y="941.0" width="171.9" height="118.2"/></clipPath>
<rect x="724.2" y="941.0" width="171.9" height="118.2" fill="#bcbcbc"/>
<rect x="724.2" y="941.0" width="171.9" height="118.2" fill="#000" filter="url(#grain)" opacity="0.16"/>
<rect x="724.2" y="941.0" width="171.9" height="118.2" fill="#fff" filter="url(#grain2)" opacity="0.25"/>
<g clip-path="url(#t10)" filter="url(#b1)" fill="#0a0a0a">
<ellipse cx="746.4" cy="965.4" rx="3.8" ry="3.2" opacity="0.36"/>
<ellipse cx="763.5" cy="965.4" rx="3.8" ry="3.2" opacity="0.36"/>
<ellipse cx="780.2" cy="964.8" rx="6.2" ry="4.6" opacity="0.98"/>
<ellipse cx="797.1" cy="964.3" rx="6.2" ry="4.6" opacity="0.98"/>
<ellipse cx="856.8" cy="963.2" rx="8.2" ry="5.6" opacity="1.0"/>
<ellipse cx="873.9" cy="962.7" rx="8.2" ry="5.6" opacity="1.0"/>
<ellipse cx="746.8" cy="976.9" rx="4.2" ry="3.5" opacity="0.7"/>
<ellipse cx="764.2" cy="976.4" rx="4.2" ry="3.5" opacity="0.7"/>
<ellipse cx="780.6" cy="975.7" rx="6.2" ry="4.6" opacity="0.98"/>
<ellipse cx="797.8" cy="975.3" rx="6.2" ry="4.6" opacity="0.98"/>
<ellipse cx="747.5" cy="991.0" rx="8.2" ry="5.6" opacity="1.0"/>
<ellipse cx="764.6" cy="991.0" rx="8.2" ry="5.6" opacity="1.0"/>
<ellipse cx="781.8" cy="989.9" rx="8.2" ry="5.6" opacity="1.0"/>
<ellipse cx="798.5" cy="989.9" rx="8.2" ry="5.6" opacity="1.0"/>
<ellipse cx="790.0" cy="989.9" rx="7.0" ry="5.0" opacity="1.0"/>
<ellipse cx="823.4" cy="990.6" rx="7.0" ry="5.0" opacity="1.0"/>
<ellipse cx="840.1" cy="990.6" rx="7.0" ry="5.0" opacity="1.0"/>
<ellipse cx="748.6" cy="1002.7" rx="3.5" ry="3.0" opacity="0.18"/>
<ellipse cx="764.6" cy="1002.7" rx="3.5" ry="3.0" opacity="0.18"/>
<ellipse cx="782.9" cy="1001.6" rx="4.0" ry="3.3" opacity="0.5"/>
<ellipse cx="798.9" cy="1001.6" rx="4.2" ry="3.5" opacity="0.7"/>
<ellipse cx="824.1" cy="1002.0" rx="7.0" ry="5.0" opacity="1.0"/>
<ellipse cx="840.8" cy="1001.6" rx="7.0" ry="5.0" opacity="1.0"/>
<ellipse cx="748.6" cy="1013.9" rx="3.5" ry="3.0" opacity="0.18"/>
<ellipse cx="765.3" cy="1013.9" rx="3.5" ry="3.0" opacity="0.18"/>
<ellipse cx="782.9" cy="1013.5" rx="3.8" ry="3.2" opacity="0.36"/>
<ellipse cx="799.4" cy="1013.0" rx="3.8" ry="3.2" opacity="0.36"/>
<ellipse cx="824.1" cy="1013.5" rx="3.5" ry="3.0" opacity="0.18"/>
<ellipse cx="841.2" cy="1013.0" rx="3.5" ry="3.0" opacity="0.18"/>
<ellipse cx="749.3" cy="1024.4" rx="3.8" ry="3.2" opacity="0.36"/>
<ellipse cx="765.3" cy="1024.2" rx="3.8" ry="3.2" opacity="0.36"/>
<ellipse cx="824.5" cy="1023.7" rx="4.0" ry="3.3" opacity="0.5"/>
<ellipse cx="841.2" cy="1023.3" rx="4.0" ry="3.3" opacity="0.5"/>
<ellipse cx="782.9" cy="1041.6" rx="8.2" ry="5.6" opacity="1.0"/>
<ellipse cx="800.1" cy="1041.3" rx="8.2" ry="5.6" opacity="1.0"/>
</g>
<rect x="735.4" y="957.9" width="36.6" height="14.4" fill="none" stroke="#c8201e" stroke-width="1.7"/>
<rect x="735.4" y="994.7" width="36.6" height="14.4" fill="none" stroke="#c8201e" stroke-width="1.7"/>
<rect x="775.6" y="994.7" width="35.9" height="14.4" fill="none" stroke="#c8201e" stroke-width="1.7"/>
<rect x="815.6" y="994.7" width="36.6" height="14.4" fill="none" stroke="#c8201e" stroke-width="1.7"/>
<rect x="724.2" y="941.0" width="171.9" height="118.2" fill="none" stroke="#1a1a1a" stroke-width="2.2"/>
<clipPath id="t11"><rect x="904.2" y="940.3" width="171.5" height="118.2"/></clipPath>
<rect x="904.2" y="940.3" width="171.5" height="118.2" fill="#bcbcbc"/>
<rect x="904.2" y="940.3" width="171.5" height="118.2" fill="#000" filter="url(#grain)" opacity="0.16"/>
<rect x="904.2" y="940.3" width="171.5" height="118.2" fill="#fff" filter="url(#grain2)" opacity="0.25"/>
<g clip-path="url(#t11)" filter="url(#b1)" fill="#0a0a0a">
<ellipse cx="925.4" cy="967.3" rx="3.8" ry="3.2" opacity="0.36"/>
<ellipse cx="941.4" cy="967.3" rx="3.8" ry="3.2" opacity="0.36"/>
<ellipse cx="956.3" cy="967.7" rx="6.2" ry="4.6" opacity="0.98"/>
<ellipse cx="971.9" cy="967.7" rx="6.2" ry="4.6" opacity="0.98"/>
<ellipse cx="1025.4" cy="970.0" rx="8.2" ry="5.6" opacity="1.0"/>
<ellipse cx="1040.9" cy="970.0" rx="8.2" ry="5.6" opacity="1.0"/>
<ellipse cx="924.8" cy="978.0" rx="4.0" ry="3.3" opacity="0.5"/>
<ellipse cx="940.3" cy="978.0" rx="3.8" ry="3.2" opacity="0.36"/>
<ellipse cx="955.8" cy="978.0" rx="6.2" ry="4.6" opacity="0.98"/>
<ellipse cx="971.2" cy="978.5" rx="6.2" ry="4.6" opacity="0.98"/>
<ellipse cx="924.3" cy="991.7" rx="7.0" ry="5.0" opacity="1.0"/>
<ellipse cx="939.8" cy="991.7" rx="7.0" ry="5.0" opacity="1.0"/>
<ellipse cx="955.6" cy="991.7" rx="8.2" ry="5.6" opacity="1.0"/>
<ellipse cx="970.5" cy="991.7" rx="8.2" ry="5.6" opacity="1.0"/>
<ellipse cx="993.6" cy="994.7" rx="7.0" ry="5.0" opacity="1.0"/>
<ellipse cx="1008.9" cy="995.2" rx="7.0" ry="5.0" opacity="1.0"/>
<ellipse cx="923.2" cy="1002.7" rx="3.5" ry="3.0" opacity="0.18"/>
<ellipse cx="938.7" cy="1003.2" rx="3.5" ry="3.0" opacity="0.18"/>
<ellipse cx="953.6" cy="1002.7" rx="3.6" ry="3.0" opacity="0.9"/>
<ellipse cx="968.9" cy="1002.7" rx="3.6" ry="3.0" opacity="0.9"/>
<ellipse cx="992.9" cy="1005.0" rx="7.0" ry="5.0" opacity="1.0"/>
<ellipse cx="1008.2" cy="1005.5" rx="7.0" ry="5.0" opacity="1.0"/>
<ellipse cx="953.6" cy="1012.8" rx="3.4" ry="2.9" opacity="0.1"/>
<ellipse cx="968.9" cy="1012.8" rx="3.4" ry="2.9" opacity="0.1"/>
<ellipse cx="991.7" cy="1015.7" rx="3.4" ry="2.9" opacity="0.1"/>
<ellipse cx="1006.6" cy="1015.7" rx="3.4" ry="2.9" opacity="0.1"/>
<ellipse cx="922.0" cy="1022.6" rx="3.5" ry="3.0" opacity="0.18"/>
<ellipse cx="937.3" cy="1022.6" rx="3.5" ry="3.0" opacity="0.18"/>
<ellipse cx="991.3" cy="1025.3" rx="3.8" ry="3.2" opacity="0.36"/>
<ellipse cx="1006.6" cy="1025.6" rx="3.8" ry="3.2" opacity="0.36"/>
<ellipse cx="950.6" cy="1037.9" rx="7.0" ry="5.0" opacity="1.0"/>
<ellipse cx="966.1" cy="1037.9" rx="7.0" ry="5.0" opacity="1.0"/>
</g>
<rect x="913.3" y="958.6" width="36.6" height="14.4" fill="none" stroke="#c8201e" stroke-width="1.7"/>
<rect x="906.5" y="998.1" width="36.6" height="14.2" fill="none" stroke="#c8201e" stroke-width="1.7"/>
<rect x="946.5" y="998.1" width="35.7" height="14.2" fill="none" stroke="#c8201e" stroke-width="1.7"/>
<rect x="985.6" y="998.1" width="36.4" height="14.2" fill="none" stroke="#c8201e" stroke-width="1.7"/>
<rect x="904.2" y="940.3" width="171.5" height="118.2" fill="none" stroke="#1a1a1a" stroke-width="2.2"/>
<clipPath id="t12"><rect x="1088.5" y="940.3" width="171.9" height="118.2"/></clipPath>
<rect x="1088.5" y="940.3" width="171.9" height="118.2" fill="#bcbcbc"/>
<rect x="1088.5" y="940.3" width="171.9" height="118.2" fill="#000" filter="url(#grain)" opacity="0.16"/>
<rect x="1088.5" y="940.3" width="171.9" height="118.2" fill="#fff" filter="url(#grain2)" opacity="0.25"/>
<g clip-path="url(#t12)" filter="url(#b1)" fill="#0a0a0a">
<ellipse cx="1112.5" cy="966.1" rx="3.6" ry="3.1" opacity="0.26"/>
<ellipse cx="1127.8" cy="966.1" rx="3.6" ry="3.1" opacity="0.26"/>
<ellipse cx="1142.2" cy="966.1" rx="6.2" ry="4.6" opacity="0.98"/>
<ellipse cx="1157.1" cy="966.6" rx="6.2" ry="4.6" opacity="0.98"/>
<ellipse cx="1208.5" cy="967.3" rx="7.0" ry="5.0" opacity="1.0"/>
<ellipse cx="1223.4" cy="967.7" rx="7.0" ry="5.0" opacity="1.0"/>
<ellipse cx="1112.5" cy="977.6" rx="4.0" ry="3.3" opacity="0.5"/>
<ellipse cx="1127.3" cy="978.0" rx="4.0" ry="3.3" opacity="0.5"/>
<ellipse cx="1142.2" cy="977.6" rx="6.2" ry="4.6" opacity="0.98"/>
<ellipse cx="1157.1" cy="978.0" rx="6.2" ry="4.6" opacity="0.98"/>
<ellipse cx="1111.8" cy="992.4" rx="7.0" ry="5.0" opacity="1.0"/>
<ellipse cx="1126.6" cy="992.9" rx="7.0" ry="5.0" opacity="1.0"/>
<ellipse cx="1141.5" cy="992.4" rx="8.2" ry="5.6" opacity="1.0"/>
<ellipse cx="1156.4" cy="992.9" rx="8.2" ry="5.6" opacity="1.0"/>
<ellipse cx="1176.9" cy="994.7" rx="7.0" ry="5.0" opacity="1.0"/>
<ellipse cx="1191.8" cy="995.2" rx="7.0" ry="5.0" opacity="1.0"/>
<ellipse cx="1111.3" cy="1004.3" rx="3.5" ry="3.0" opacity="0.18"/>
<ellipse cx="1126.6" cy="1004.3" rx="3.5" ry="3.0" opacity="0.18"/>
<ellipse cx="1141.0" cy="1003.9" rx="4.2" ry="3.5" opacity="0.7"/>
<ellipse cx="1155.2" cy="1003.9" rx="4.6" ry="3.6" opacity="0.85"/>
<ellipse cx="1176.9" cy="1006.6" rx="7.0" ry="5.0" opacity="1.0"/>
<ellipse cx="1191.8" cy="1006.6" rx="7.0" ry="5.0" opacity="1.0"/>
<ellipse cx="1111.3" cy="1016.4" rx="3.4" ry="2.9" opacity="0.1"/>
<ellipse cx="1125.5" cy="1016.4" rx="3.4" ry="2.9" opacity="0.1"/>
<ellipse cx="1141.0" cy="1016.4" rx="4.0" ry="3.3" opacity="0.5"/>
<ellipse cx="1155.2" cy="1016.4" rx="4.2" ry="3.5" opacity="0.7"/>
<ellipse cx="1175.8" cy="1017.3" rx="3.5" ry="3.0" opacity="0.18"/>
<ellipse cx="1190.7" cy="1017.3" rx="3.5" ry="3.0" opacity="0.18"/>
<ellipse cx="1110.2" cy="1027.2" rx="3.5" ry="3.0" opacity="0.18"/>
<ellipse cx="1125.0" cy="1027.2" rx="3.5" ry="3.0" opacity="0.18"/>
<ellipse cx="1175.8" cy="1028.8" rx="3.8" ry="3.2" opacity="0.36"/>
<ellipse cx="1190.7" cy="1028.8" rx="3.6" ry="3.1" opacity="0.26"/>
<ellipse cx="1139.2" cy="1045.0" rx="7.0" ry="5.0" opacity="1.0"/>
<ellipse cx="1153.6" cy="1045.0" rx="7.0" ry="5.0" opacity="1.0"/>
</g>
<rect x="1094.2" y="998.1" width="36.4" height="14.2" fill="none" stroke="#c8201e" stroke-width="1.7"/>
<rect x="1133.5" y="998.1" width="35.4" height="14.2" fill="none" stroke="#c8201e" stroke-width="1.7"/>
<rect x="1171.9" y="998.1" width="36.6" height="14.2" fill="none" stroke="#c8201e" stroke-width="1.7"/>
<rect x="1088.5" y="940.3" width="171.9" height="118.2" fill="none" stroke="#1a1a1a" stroke-width="2.2"/>
<clipPath id="t13"><rect x="539.9" y="1068.7" width="172.2" height="119.3"/></clipPath>
<rect x="539.9" y="1068.7" width="172.2" height="119.3" fill="#bcbcbc"/>
<rect x="539.9" y="1068.7" width="172.2" height="119.3" fill="#000" filter="url(#grain)" opacity="0.16"/>
<rect x="539.9" y="1068.7" width="172.2" height="119.3" fill="#fff" filter="url(#grain2)" opacity="0.25"/>
<g clip-path="url(#t13)" filter="url(#b1)" fill="#0a0a0a">
<ellipse cx="560.7" cy="1084.0" rx="8.2" ry="5.6" opacity="1.0"/>
<ellipse cx="573.0" cy="1084.0" rx="8.2" ry="5.6" opacity="1.0"/>
<ellipse cx="591.6" cy="1095.4" rx="7.0" ry="5.0" opacity="1.0"/>
<ellipse cx="603.9" cy="1095.4" rx="7.0" ry="5.0" opacity="1.0"/>
<ellipse cx="617.2" cy="1096.1" rx="3.5" ry="3.0" opacity="0.18"/>
<ellipse cx="627.5" cy="1096.1" rx="3.4" ry="2.9" opacity="0.1"/>
<ellipse cx="645.8" cy="1097.0" rx="4.0" ry="3.3" opacity="0.5"/>
<ellipse cx="656.7" cy="1097.0" rx="3.8" ry="3.2" opacity="0.36"/>
<ellipse cx="669.8" cy="1097.0" rx="4.0" ry="3.3" opacity="0.5"/>
<ellipse cx="681.9" cy="1097.0" rx="3.8" ry="3.2" opacity="0.36"/>
<ellipse cx="591.6" cy="1112.6" rx="3.8" ry="3.2" opacity="0.36"/>
<ellipse cx="603.5" cy="1112.1" rx="4.0" ry="3.3" opacity="0.5"/>
<ellipse cx="614.4" cy="1113.0" rx="8.2" ry="5.6" opacity="1.0"/>
<ellipse cx="627.0" cy="1113.0" rx="8.2" ry="5.6" opacity="1.0"/>
<ellipse cx="645.3" cy="1113.7" rx="8.2" ry="5.6" opacity="1.0"/>
<ellipse cx="657.2" cy="1113.7" rx="8.2" ry="5.6" opacity="1.0"/>
<ellipse cx="669.8" cy="1114.2" rx="3.4" ry="2.9" opacity="0.1"/>
<ellipse cx="681.2" cy="1114.2" rx="3.4" ry="2.9" opacity="0.1"/>
<ellipse cx="590.9" cy="1122.4" rx="4.0" ry="3.3" opacity="0.5"/>
<ellipse cx="602.8" cy="1122.4" rx="4.0" ry="3.3" opacity="0.5"/>
<ellipse cx="614.9" cy="1122.4" rx="3.4" ry="2.9" opacity="0.1"/>
<ellipse cx="627.0" cy="1122.4" rx="3.4" ry="2.9" opacity="0.1"/>
<ellipse cx="645.3" cy="1124.0" rx="4.0" ry="3.3" opacity="0.5"/>
<ellipse cx="656.7" cy="1124.0" rx="4.0" ry="3.3" opacity="0.5"/>
<ellipse cx="669.1" cy="1124.7" rx="4.2" ry="3.5" opacity="0.7"/>
<ellipse cx="681.2" cy="1125.2" rx="4.0" ry="3.3" opacity="0.5"/>
<ellipse cx="590.9" cy="1133.6" rx="4.2" ry="3.5" opacity="0.7"/>
<ellipse cx="602.3" cy="1133.9" rx="4.2" ry="3.5" opacity="0.7"/>
<ellipse cx="614.2" cy="1134.3" rx="3.6" ry="3.1" opacity="0.26"/>
<ellipse cx="626.3" cy="1134.3" rx="3.6" ry="3.1" opacity="0.26"/>
<ellipse cx="644.6" cy="1135.0" rx="4.0" ry="3.3" opacity="0.5"/>
<ellipse cx="656.7" cy="1135.0" rx="4.0" ry="3.3" opacity="0.5"/>
<ellipse cx="669.1" cy="1135.5" rx="4.6" ry="3.6" opacity="0.85"/>
<ellipse cx="680.7" cy="1135.9" rx="4.2" ry="3.5" opacity="0.7"/>
<ellipse cx="590.2" cy="1145.1" rx="4.0" ry="3.3" opacity="0.5"/>
<ellipse cx="601.9" cy="1145.3" rx="3.8" ry="3.2" opacity="0.36"/>
<ellipse cx="613.7" cy="1145.7" rx="5.2" ry="4.0" opacity="0.95"/>
<ellipse cx="625.9" cy="1145.7" rx="5.2" ry="4.0" opacity="0.95"/>
<ellipse cx="644.2" cy="1146.9" rx="8.2" ry="5.6" opacity="1.0"/>
<ellipse cx="656.3" cy="1146.9" rx="8.2" ry="5.6" opacity="1.0"/>
<ellipse cx="668.6" cy="1146.9" rx="4.2" ry="3.5" opacity="0.7"/>
<ellipse cx="680.5" cy="1147.3" rx="4.2" ry="3.5" opacity="0.7"/>
<ellipse cx="557.7" cy="1161.1" rx="8.2" ry="5.6" opacity="1.0"/>
<ellipse cx="570.8" cy="1161.1" rx="8.2" ry="5.6" opacity="1.0"/>
<ellipse cx="588.6" cy="1160.1" rx="6.2" ry="4.6" opacity="0.98"/>
<ellipse cx="600.7" cy="1160.6" rx="6.2" ry="4.6" opacity="0.98"/>
</g>
<rect x="577.2" y="1087.4" width="36.6" height="14.2" fill="none" stroke="#c8201e" stroke-width="1.7"/>
<rect x="659.0" y="1087.4" width="37.0" height="14.2" fill="none" stroke="#c8201e" stroke-width="1.7"/>
<text x="575.6" y="1113.0" font-size="12.5" text-anchor="middle" font-weight="bold" fill="#c8201e">6</text>
<text x="692.6" y="1113.0" font-size="12.5" text-anchor="middle" font-weight="bold" fill="#c8201e">5</text>
<rect x="539.9" y="1068.7" width="172.2" height="119.3" fill="none" stroke="#1a1a1a" stroke-width="2.2"/>
<clipPath id="t14"><rect x="724.2" y="1069.6" width="171.9" height="118.9"/></clipPath>
<rect x="724.2" y="1069.6" width="171.9" height="118.9" fill="#bcbcbc"/>
<rect x="724.2" y="1069.6" width="171.9" height="118.9" fill="#000" filter="url(#grain)" opacity="0.16"/>
<rect x="724.2" y="1069.6" width="171.9" height="118.9" fill="#fff" filter="url(#grain2)" opacity="0.25"/>
<g clip-path="url(#t14)" filter="url(#b1)" fill="#0a0a0a">
<ellipse cx="749.8" cy="1087.0" rx="8.2" ry="5.6" opacity="1.0"/>
<ellipse cx="761.9" cy="1087.0" rx="8.2" ry="5.6" opacity="1.0"/>
<ellipse cx="780.0" cy="1097.7" rx="7.0" ry="5.0" opacity="1.0"/>
<ellipse cx="791.6" cy="1097.7" rx="7.0" ry="5.0" opacity="1.0"/>
<ellipse cx="817.2" cy="1098.9" rx="3.4" ry="2.9" opacity="0.1"/>
<ellipse cx="834.4" cy="1099.3" rx="3.8" ry="3.2" opacity="0.36"/>
<ellipse cx="845.8" cy="1099.3" rx="3.5" ry="3.0" opacity="0.18"/>
<ellipse cx="858.4" cy="1099.3" rx="3.8" ry="3.2" opacity="0.36"/>
<ellipse cx="870.5" cy="1099.8" rx="3.6" ry="3.1" opacity="0.26"/>
<ellipse cx="778.4" cy="1113.3" rx="3.8" ry="3.2" opacity="0.36"/>
<ellipse cx="790.5" cy="1113.3" rx="3.8" ry="3.2" opacity="0.36"/>
<ellipse cx="801.9" cy="1114.2" rx="8.2" ry="5.6" opacity="1.0"/>
<ellipse cx="814.3" cy="1114.2" rx="8.2" ry="5.6" opacity="1.0"/>
<ellipse cx="834.4" cy="1114.9" rx="8.2" ry="5.6" opacity="1.0"/>
<ellipse cx="846.5" cy="1114.9" rx="8.2" ry="5.6" opacity="1.0"/>
<ellipse cx="858.4" cy="1114.9" rx="3.4" ry="2.9" opacity="0.1"/>
<ellipse cx="870.5" cy="1114.9" rx="3.4" ry="2.9" opacity="0.1"/>
<ellipse cx="777.9" cy="1123.6" rx="4.0" ry="3.3" opacity="0.5"/>
<ellipse cx="790.3" cy="1123.6" rx="4.0" ry="3.3" opacity="0.5"/>
<ellipse cx="802.4" cy="1122.9" rx="3.4" ry="2.9" opacity="0.1"/>
<ellipse cx="813.8" cy="1123.3" rx="3.4" ry="2.9" opacity="0.1"/>
<ellipse cx="834.8" cy="1125.2" rx="3.8" ry="3.2" opacity="0.36"/>
<ellipse cx="846.5" cy="1125.6" rx="4.0" ry="3.3" opacity="0.5"/>
<ellipse cx="858.4" cy="1126.3" rx="4.2" ry="3.5" opacity="0.7"/>
<ellipse cx="869.8" cy="1126.3" rx="4.0" ry="3.3" opacity="0.5"/>
<ellipse cx="777.9" cy="1134.3" rx="4.2" ry="3.5" opacity="0.7"/>
<ellipse cx="789.8" cy="1134.3" rx="4.2" ry="3.5" opacity="0.7"/>
<ellipse cx="801.7" cy="1134.3" rx="3.5" ry="3.0" opacity="0.18"/>
<ellipse cx="813.3" cy="1134.8" rx="3.5" ry="3.0" opacity="0.18"/>
<ellipse cx="834.4" cy="1135.5" rx="3.8" ry="3.2" opacity="0.36"/>
<ellipse cx="846.5" cy="1135.9" rx="4.0" ry="3.3" opacity="0.5"/>
<ellipse cx="858.4" cy="1136.1" rx="4.6" ry="3.6" opacity="0.85"/>
<ellipse cx="869.8" cy="1136.6" rx="4.2" ry="3.5" opacity="0.7"/>
<ellipse cx="777.7" cy="1145.1" rx="4.0" ry="3.3" opacity="0.5"/>
<ellipse cx="789.8" cy="1145.3" rx="3.8" ry="3.2" opacity="0.36"/>
<ellipse cx="801.7" cy="1145.3" rx="5.2" ry="4.0" opacity="0.95"/>
<ellipse cx="813.8" cy="1145.7" rx="5.2" ry="4.0" opacity="0.95"/>
<ellipse cx="833.9" cy="1146.9" rx="8.2" ry="5.6" opacity="1.0"/>
<ellipse cx="845.8" cy="1146.9" rx="8.2" ry="5.6" opacity="1.0"/>
<ellipse cx="857.9" cy="1146.9" rx="4.2" ry="3.5" opacity="0.7"/>
<ellipse cx="869.8" cy="1147.3" rx="4.2" ry="3.5" opacity="0.7"/>
<ellipse cx="748.6" cy="1161.7" rx="8.2" ry="5.6" opacity="1.0"/>
<ellipse cx="760.8" cy="1162.2" rx="8.2" ry="5.6" opacity="1.0"/>
<ellipse cx="777.7" cy="1161.3" rx="5.2" ry="4.0" opacity="0.95"/>
<ellipse cx="789.8" cy="1161.3" rx="5.2" ry="4.0" opacity="0.95"/>
</g>
<rect x="764.6" y="1089.3" width="37.0" height="14.2" fill="none" stroke="#c8201e" stroke-width="1.7"/>
<rect x="847.4" y="1089.3" width="36.8" height="14.2" fill="none" stroke="#c8201e" stroke-width="1.7"/>
<rect x="724.2" y="1069.6" width="171.9" height="118.9" fill="none" stroke="#1a1a1a" stroke-width="2.2"/>
<clipPath id="t15"><rect x="904.2" y="1069.6" width="171.5" height="118.4"/></clipPath>
<rect x="904.2" y="1069.6" width="171.5" height="118.4" fill="#bcbcbc"/>
<rect x="904.2" y="1069.6" width="171.5" height="118.4" fill="#000" filter="url(#grain)" opacity="0.16"/>
<rect x="904.2" y="1069.6" width="171.5" height="118.4" fill="#fff" filter="url(#grain2)" opacity="0.25"/>
<g clip-path="url(#t15)" filter="url(#b1)" fill="#0a0a0a">
<ellipse cx="917.9" cy="1084.7" rx="8.2" ry="5.6" opacity="1.0"/>
<ellipse cx="931.2" cy="1084.7" rx="8.2" ry="5.6" opacity="1.0"/>
<ellipse cx="952.2" cy="1096.6" rx="7.0" ry="5.0" opacity="1.0"/>
<ellipse cx="965.5" cy="1096.6" rx="7.0" ry="5.0" opacity="1.0"/>
<ellipse cx="990.6" cy="1096.6" rx="3.4" ry="2.9" opacity="0.1"/>
<ellipse cx="1010.0" cy="1097.7" rx="3.6" ry="3.1" opacity="0.26"/>
<ellipse cx="1023.8" cy="1097.7" rx="3.4" ry="2.9" opacity="0.1"/>
<ellipse cx="1036.8" cy="1098.2" rx="4.0" ry="3.3" opacity="0.5"/>
<ellipse cx="1050.0" cy="1098.2" rx="3.8" ry="3.2" opacity="0.36"/>
<ellipse cx="951.7" cy="1114.2" rx="3.6" ry="3.1" opacity="0.26"/>
<ellipse cx="964.8" cy="1114.2" rx="3.8" ry="3.2" opacity="0.36"/>
<ellipse cx="978.0" cy="1114.2" rx="8.2" ry="5.6" opacity="1.0"/>
<ellipse cx="990.6" cy="1114.2" rx="8.2" ry="5.6" opacity="1.0"/>
<ellipse cx="1010.5" cy="1115.3" rx="8.2" ry="5.6" opacity="1.0"/>
<ellipse cx="1023.8" cy="1115.3" rx="8.2" ry="5.6" opacity="1.0"/>
<ellipse cx="1036.3" cy="1114.9" rx="3.5" ry="3.0" opacity="0.18"/>
<ellipse cx="1049.4" cy="1114.9" rx="3.4" ry="2.9" opacity="0.1"/>
<ellipse cx="951.7" cy="1126.3" rx="3.8" ry="3.2" opacity="0.36"/>
<ellipse cx="964.3" cy="1126.3" rx="4.0" ry="3.3" opacity="0.5"/>
<ellipse cx="977.6" cy="1125.8" rx="3.4" ry="2.9" opacity="0.1"/>
<ellipse cx="990.6" cy="1125.8" rx="3.4" ry="2.9" opacity="0.1"/>
<ellipse cx="1010.0" cy="1126.8" rx="3.8" ry="3.2" opacity="0.36"/>
<ellipse cx="1023.3" cy="1127.0" rx="4.0" ry="3.3" opacity="0.5"/>
<ellipse cx="1036.3" cy="1126.3" rx="4.2" ry="3.5" opacity="0.7"/>
<ellipse cx="1049.4" cy="1126.8" rx="4.2" ry="3.5" opacity="0.7"/>
<ellipse cx="951.7" cy="1138.4" rx="4.0" ry="3.3" opacity="0.5"/>
<ellipse cx="964.3" cy="1138.9" rx="4.2" ry="3.5" opacity="0.7"/>
<ellipse cx="977.6" cy="1138.4" rx="3.5" ry="3.0" opacity="0.18"/>
<ellipse cx="990.6" cy="1138.4" rx="3.4" ry="2.9" opacity="0.1"/>
<ellipse cx="1010.0" cy="1138.9" rx="4.2" ry="3.5" opacity="0.7"/>
<ellipse cx="1023.3" cy="1139.3" rx="4.2" ry="3.5" opacity="0.7"/>
<ellipse cx="1036.3" cy="1138.4" rx="4.6" ry="3.6" opacity="0.85"/>
<ellipse cx="1049.4" cy="1138.9" rx="4.6" ry="3.6" opacity="0.85"/>
<ellipse cx="951.0" cy="1149.9" rx="3.4" ry="2.9" opacity="0.1"/>
<ellipse cx="963.9" cy="1150.3" rx="3.4" ry="2.9" opacity="0.1"/>
<ellipse cx="977.6" cy="1149.9" rx="5.2" ry="4.0" opacity="0.95"/>
<ellipse cx="990.6" cy="1149.9" rx="5.2" ry="4.0" opacity="0.95"/>
<ellipse cx="1010.0" cy="1150.3" rx="8.2" ry="5.6" opacity="1.0"/>
<ellipse cx="1023.3" cy="1150.8" rx="8.2" ry="5.6" opacity="1.0"/>
<ellipse cx="1036.3" cy="1150.3" rx="4.0" ry="3.3" opacity="0.5"/>
<ellipse cx="1049.4" cy="1150.8" rx="3.8" ry="3.2" opacity="0.36"/>
<ellipse cx="917.4" cy="1166.8" rx="8.2" ry="5.6" opacity="1.0"/>
<ellipse cx="930.5" cy="1166.8" rx="8.2" ry="5.6" opacity="1.0"/>
<ellipse cx="950.6" cy="1166.3" rx="5.2" ry="4.0" opacity="0.95"/>
<ellipse cx="963.2" cy="1166.3" rx="5.2" ry="4.0" opacity="0.95"/>
</g>
<rect x="939.2" y="1089.7" width="37.0" height="14.9" fill="none" stroke="#c8201e" stroke-width="1.7"/>
<rect x="1024.4" y="1089.7" width="36.6" height="14.9" fill="none" stroke="#c8201e" stroke-width="1.7"/>
<rect x="904.2" y="1069.6" width="171.5" height="118.4" fill="none" stroke="#1a1a1a" stroke-width="2.2"/>
<clipPath id="t16"><rect x="1088.5" y="1069.6" width="171.9" height="118.4"/></clipPath>
<rect x="1088.5" y="1069.6" width="171.9" height="118.4" fill="#bcbcbc"/>
<rect x="1088.5" y="1069.6" width="171.9" height="118.4" fill="#000" filter="url(#grain)" opacity="0.16"/>
<rect x="1088.5" y="1069.6" width="171.9" height="118.4" fill="#fff" filter="url(#grain2)" opacity="0.25"/>
<g clip-path="url(#t16)" filter="url(#b1)" fill="#0a0a0a">
<ellipse cx="1107.7" cy="1085.2" rx="7.0" ry="5.0" opacity="1.0"/>
<ellipse cx="1120.9" cy="1085.2" rx="7.0" ry="5.0" opacity="1.0"/>
<ellipse cx="1139.9" cy="1096.6" rx="7.0" ry="5.0" opacity="1.0"/>
<ellipse cx="1152.9" cy="1097.0" rx="7.0" ry="5.0" opacity="1.0"/>
<ellipse cx="1197.5" cy="1098.9" rx="3.4" ry="2.9" opacity="0.1"/>
<ellipse cx="1207.8" cy="1094.3" rx="3.4" ry="2.9" opacity="0.1"/>
<ellipse cx="1223.8" cy="1098.4" rx="3.5" ry="3.0" opacity="0.18"/>
<ellipse cx="1236.4" cy="1098.9" rx="3.5" ry="3.0" opacity="0.18"/>
<ellipse cx="1138.1" cy="1113.0" rx="3.4" ry="2.9" opacity="0.1"/>
<ellipse cx="1150.6" cy="1113.0" rx="3.5" ry="3.0" opacity="0.18"/>
<ellipse cx="1163.2" cy="1113.0" rx="7.0" ry="5.0" opacity="1.0"/>
<ellipse cx="1175.8" cy="1113.7" rx="7.0" ry="5.0" opacity="1.0"/>
<ellipse cx="1198.0" cy="1114.9" rx="7.0" ry="5.0" opacity="1.0"/>
<ellipse cx="1210.8" cy="1114.9" rx="7.0" ry="5.0" opacity="1.0"/>
<ellipse cx="1138.1" cy="1124.0" rx="3.5" ry="3.0" opacity="0.18"/>
<ellipse cx="1150.6" cy="1124.0" rx="3.6" ry="3.1" opacity="0.26"/>
<ellipse cx="1163.2" cy="1121.7" rx="3.4" ry="2.9" opacity="0.1"/>
<ellipse cx="1197.5" cy="1126.3" rx="3.4" ry="2.9" opacity="0.1"/>
<ellipse cx="1210.8" cy="1126.3" rx="3.6" ry="3.1" opacity="0.26"/>
<ellipse cx="1222.7" cy="1125.8" rx="4.0" ry="3.3" opacity="0.5"/>
<ellipse cx="1235.2" cy="1126.3" rx="3.8" ry="3.2" opacity="0.36"/>
<ellipse cx="1137.6" cy="1134.3" rx="3.6" ry="3.1" opacity="0.26"/>
<ellipse cx="1150.2" cy="1134.8" rx="3.6" ry="3.1" opacity="0.26"/>
<ellipse cx="1163.2" cy="1134.3" rx="3.4" ry="2.9" opacity="0.1"/>
<ellipse cx="1175.8" cy="1134.8" rx="3.4" ry="2.9" opacity="0.1"/>
<ellipse cx="1197.5" cy="1137.1" rx="4.0" ry="3.3" opacity="0.5"/>
<ellipse cx="1210.8" cy="1137.1" rx="4.0" ry="3.3" opacity="0.5"/>
<ellipse cx="1223.1" cy="1136.6" rx="4.2" ry="3.5" opacity="0.7"/>
<ellipse cx="1235.7" cy="1137.1" rx="4.2" ry="3.5" opacity="0.7"/>
<ellipse cx="1163.2" cy="1145.7" rx="4.6" ry="3.6" opacity="0.85"/>
<ellipse cx="1175.8" cy="1146.2" rx="4.2" ry="3.5" opacity="0.7"/>
<ellipse cx="1197.5" cy="1147.3" rx="8.2" ry="5.6" opacity="1.0"/>
<ellipse cx="1210.1" cy="1147.3" rx="8.2" ry="5.6" opacity="1.0"/>
<ellipse cx="1222.7" cy="1147.3" rx="4.0" ry="3.3" opacity="0.5"/>
<ellipse cx="1235.7" cy="1147.8" rx="3.8" ry="3.2" opacity="0.36"/>
<ellipse cx="1105.6" cy="1162.4" rx="8.2" ry="5.6" opacity="1.0"/>
<ellipse cx="1118.6" cy="1162.4" rx="8.2" ry="5.6" opacity="1.0"/>
<ellipse cx="1137.6" cy="1162.4" rx="4.6" ry="3.6" opacity="0.85"/>
<ellipse cx="1150.2" cy="1162.9" rx="4.6" ry="3.6" opacity="0.85"/>
</g>
<rect x="1131.2" y="1089.3" width="36.6" height="14.2" fill="none" stroke="#c8201e" stroke-width="1.7"/>
<rect x="1216.3" y="1089.3" width="36.8" height="14.2" fill="none" stroke="#c8201e" stroke-width="1.7"/>
<rect x="1088.5" y="1069.6" width="171.9" height="118.4" fill="none" stroke="#1a1a1a" stroke-width="2.2"/>
<path d="M532.1,683.4 H523.6 Q520.6,683.4 520.6,686.4 V803.5 Q520.6,806.5 517.6,806.5 H508.6 M517.6,806.5 Q520.6,806.5 520.6,809.5 V925.6 Q520.6,928.6 523.6,928.6 H532.1" fill="none" stroke="#111" stroke-width="1.8"/>
<path d="M532.1,940.4 H523.6 Q520.6,940.4 520.6,943.4 V1060.8 Q520.6,1063.8 517.6,1063.8 H508.6 M517.6,1063.8 Q520.6,1063.8 520.6,1066.8 V1185.3 Q520.6,1188.3 523.6,1188.3 H532.1" fill="none" stroke="#111" stroke-width="1.8"/>
<text x="495.5" y="809.5" font-size="23.6" text-anchor="middle" transform="rotate(-90 495.5 809.5)">LOW EXP.</text>
<text x="495.5" y="1067.0" font-size="23.6" text-anchor="middle" transform="rotate(-90 495.5 1067.0)">HIGH EXP.</text>
<rect x="540.5" y="1204.9" width="174.1" height="38.5" fill="#2b2627" stroke="#1a1a1a" stroke-width="1.3"/>
<rect x="714.6" y="1204.9" width="175.2" height="38.5" fill="#b5a2a2" stroke="#1a1a1a" stroke-width="1.3"/>
<rect x="540.5" y="1243.4" width="174.1" height="38.8" fill="#7d7272" stroke="#1a1a1a" stroke-width="1.3"/>
<rect x="714.6" y="1243.4" width="175.2" height="38.8" fill="#8b7d7d" stroke="#1a1a1a" stroke-width="1.3"/>
<rect x="540.5" y="1282.2" width="174.1" height="39.7" fill="#7a6e6e" stroke="#1a1a1a" stroke-width="1.3"/>
<rect x="714.6" y="1282.2" width="175.2" height="39.7" fill="#dcc3c3" stroke="#1a1a1a" stroke-width="1.3"/>
<rect x="540.5" y="1321.9" width="174.1" height="38.5" fill="#968888" stroke="#1a1a1a" stroke-width="1.3"/>
<rect x="714.6" y="1321.9" width="175.2" height="38.5" fill="#e8cccc" stroke="#1a1a1a" stroke-width="1.3"/>
<rect x="540.5" y="1360.4" width="174.1" height="40.7" fill="#2a2626" stroke="#1a1a1a" stroke-width="1.3"/>
<rect x="714.6" y="1360.4" width="175.2" height="40.7" fill="#8f8181" stroke="#1a1a1a" stroke-width="1.3"/>
<rect x="540.5" y="1401.1" width="174.1" height="36.8" fill="#3a0000" stroke="#1a1a1a" stroke-width="1.3"/>
<rect x="714.6" y="1401.1" width="175.2" height="36.8" fill="#807474" stroke="#1a1a1a" stroke-width="1.3"/>
<rect x="540.5" y="1204.9" width="349.3" height="233.0" fill="none" stroke="#111" stroke-width="2.4"/>
<rect x="908.4" y="1204.9" width="174.4" height="38.5" fill="#c2acac" stroke="#1a1a1a" stroke-width="1.3"/>
<rect x="1082.8" y="1204.9" width="174.9" height="38.5" fill="#b8a4a4" stroke="#1a1a1a" stroke-width="1.3"/>
<rect x="908.4" y="1243.4" width="174.4" height="38.8" fill="#a08f8f" stroke="#1a1a1a" stroke-width="1.3"/>
<rect x="1082.8" y="1243.4" width="174.9" height="38.8" fill="#c8b1b1" stroke="#1a1a1a" stroke-width="1.3"/>
<rect x="908.4" y="1282.2" width="174.4" height="39.7" fill="#a08f8f" stroke="#1a1a1a" stroke-width="1.3"/>
<rect x="1082.8" y="1282.2" width="174.9" height="39.7" fill="#fce0e0" stroke="#1a1a1a" stroke-width="1.3"/>
<rect x="908.4" y="1321.9" width="174.4" height="38.5" fill="#9d8c8c" stroke="#1a1a1a" stroke-width="1.3"/>
<rect x="1082.8" y="1321.9" width="174.9" height="38.5" fill="#d4bcbc" stroke="#1a1a1a" stroke-width="1.3"/>
<rect x="908.4" y="1360.4" width="174.4" height="40.7" fill="#151212" stroke="#1a1a1a" stroke-width="1.3"/>
<rect x="1082.8" y="1360.4" width="174.9" height="40.7" fill="#7b6f6f" stroke="#1a1a1a" stroke-width="1.3"/>
<rect x="908.4" y="1401.1" width="174.4" height="36.8" fill="#a00000" stroke="#1a1a1a" stroke-width="1.3"/>
<rect x="1082.8" y="1401.1" width="174.9" height="36.8" fill="#5a5050" stroke="#1a1a1a" stroke-width="1.3"/>
<rect x="908.4" y="1204.9" width="349.3" height="233.0" fill="none" stroke="#111" stroke-width="2.4"/>
<rect x="1268.5" y="1204.0" width="34.5" height="236.0" fill="url(#cbar)" stroke="#111" stroke-width="2.4"/>
<line x1="1268.5" y1="1245.7" x2="1274.0" y2="1245.7" stroke="#000" stroke-width="1.6"/>
<line x1="1297.5" y1="1245.7" x2="1303.0" y2="1245.7" stroke="#000" stroke-width="1.6"/>
<text x="1315.5" y="1251.4" font-size="23">3.0</text>
<line x1="1268.5" y1="1326.0" x2="1274.0" y2="1326.0" stroke="#000" stroke-width="1.6"/>
<line x1="1297.5" y1="1326.0" x2="1303.0" y2="1326.0" stroke="#000" stroke-width="1.6"/>
<text x="1315.5" y="1331.7" font-size="23">2.0</text>
<line x1="1268.5" y1="1405.0" x2="1274.0" y2="1405.0" stroke="#000" stroke-width="1.6"/>
<line x1="1297.5" y1="1405.0" x2="1303.0" y2="1405.0" stroke="#000" stroke-width="1.6"/>
<text x="1315.5" y="1410.7" font-size="23">1.0</text>
<text x="534.5" y="1229.2" font-size="16" text-anchor="end">1. AKT1/2/3 (T308)</text>
<text x="534.5" y="1267.8" font-size="16" text-anchor="end">2. p70S6K (T389)</text>
<text x="534.5" y="1307.1" font-size="16" text-anchor="end">3. p70S6K (S421/S424)</text>
<text x="534.5" y="1346.2" font-size="16" text-anchor="end">4. PRAS40 (T246)</text>
<text x="534.5" y="1385.8" font-size="16" text-anchor="end">5. ERK1/2 (T202/Y204)</text>
<text x="534.5" y="1424.5" font-size="16" text-anchor="end">6. CREB (S133)</text>
</g>
<g id="panelF">
<text transform="translate(1271.7 590.0) scale(0.96 1)" font-size="56.8" font-weight="bold">F</text>
<text x="1526.5" y="639.5" font-size="24.3" text-anchor="middle">Control vector</text>
<line x1="1447.0" y1="648.2" x2="1604.0" y2="648.2" stroke="#000" stroke-width="2"/>
<text x="1699.0" y="639.5" font-size="24.3" text-anchor="middle">BiP-IR</text>
<line x1="1619.0" y1="648.2" x2="1776.5" y2="648.2" stroke="#000" stroke-width="2"/>
<text x="1430.2" y="680.0" font-size="28" text-anchor="end">Time (min)</text>
<text x="1431.5" y="711.0" font-size="28" text-anchor="end">WIN</text>
<text x="1457.0" y="681.0" font-size="28" text-anchor="middle">5</text>
<text x="1499.0" y="681.0" font-size="28" text-anchor="middle">5</text>
<text x="1544.0" y="681.0" font-size="28" text-anchor="middle">15</text>
<text x="1588.0" y="681.0" font-size="28" text-anchor="middle">15</text>
<text x="1629.0" y="681.0" font-size="28" text-anchor="middle">5</text>
<text x="1671.0" y="681.0" font-size="28" text-anchor="middle">5</text>
<text x="1717.0" y="681.0" font-size="28" text-anchor="middle">15</text>
<text x="1761.0" y="681.0" font-size="28" text-anchor="middle">15</text>
<text x="1457.0" y="705.0" font-size="26" text-anchor="middle">-</text>
<text x="1499.0" y="707.0" font-size="26" text-anchor="middle">+</text>
<text x="1544.0" y="705.0" font-size="26" text-anchor="middle">-</text>
<text x="1588.0" y="707.0" font-size="26" text-anchor="middle">+</text>
<text x="1629.0" y="705.0" font-size="26" text-anchor="middle">-</text>
<text x="1671.0" y="707.0" font-size="26" text-anchor="middle">+</text>
<text x="1717.0" y="705.0" font-size="26" text-anchor="middle">-</text>
<text x="1761.0" y="707.0" font-size="26" text-anchor="middle">+</text>
<clipPath id="bl1"><rect x="1435.5" y="718.0" width="341.1" height="81.5"/></clipPath>
<rect x="1435.5" y="718.0" width="341.1" height="81.5" fill="#a9a9a9"/>
<g clip-path="url(#bl1)">
<rect x="1447.1" y="718" width="34" height="82" fill="#000" opacity="0.03"/>
<rect x="1488.6" y="718" width="34" height="82" fill="#000" opacity="0.05"/>
<rect x="1530.5" y="718" width="34" height="82" fill="#000" opacity="0.03"/>
<rect x="1571.2" y="718" width="34" height="82" fill="#000" opacity="0.05"/>
<rect x="1611.7" y="718" width="34" height="82" fill="#000" opacity="0.03"/>
<rect x="1650.9" y="718" width="34" height="82" fill="#000" opacity="0.05"/>
<rect x="1689.8" y="718" width="34" height="82" fill="#000" opacity="0.03"/>
<rect x="1730.1" y="718" width="34" height="82" fill="#000" opacity="0.05"/>
<rect x="1435.5" y="718.0" width="341.1" height="81.5" fill="#000" filter="url(#grain)" opacity="0.14"/>
<g filter="url(#b2)" fill="#0c0c0c">
<rect x="1448.2" y="758.2" width="31.8" height="9.0" rx="4.5" opacity="0.62"/>
<rect x="1448.8" y="753.2" width="30.5" height="6.1" rx="3.1" opacity="0.3844"/>
<rect x="1487.7" y="757.4" width="35.7" height="12.3" rx="6.0" opacity="0.85"/>
<rect x="1488.5" y="750.6" width="34.3" height="8.3" rx="4.2" opacity="0.527"/>
<rect x="1530.9" y="759.6" width="33.1" height="7.4" rx="3.7" opacity="0.55"/>
<rect x="1531.6" y="755.6" width="31.8" height="5.0" rx="2.5" opacity="0.341"/>
<rect x="1571.7" y="759.6" width="33.1" height="10.7" rx="5.3" opacity="0.8"/>
<rect x="1572.3" y="753.8" width="31.8" height="7.2" rx="3.6" opacity="0.496"/>
<rect x="1612.2" y="759.8" width="33.1" height="9.8" rx="4.9" opacity="0.78"/>
<rect x="1612.8" y="754.4" width="31.8" height="6.7" rx="3.3" opacity="0.48360000000000003"/>
<rect x="1651.4" y="759.2" width="33.1" height="12.3" rx="6.0" opacity="0.88"/>
<rect x="1652.0" y="752.5" width="31.8" height="8.3" rx="4.2" opacity="0.5456"/>
<rect x="1692.3" y="759.9" width="29.1" height="6.2" rx="3.1" opacity="0.5"/>
<rect x="1692.9" y="756.5" width="28.0" height="4.2" rx="2.1" opacity="0.31"/>
<rect x="1729.9" y="758.2" width="34.4" height="9.0" rx="4.5" opacity="0.72"/>
<rect x="1730.6" y="753.2" width="33.0" height="6.1" rx="3.1" opacity="0.44639999999999996"/>
</g></g>
<rect x="1435.5" y="718.0" width="341.1" height="81.5" fill="none" stroke="#1a1a1a" stroke-width="2.2"/>
<clipPath id="bl2"><rect x="1435.5" y="808.5" width="341.1" height="81.0"/></clipPath>
<rect x="1435.5" y="808.5" width="341.1" height="81.0" fill="#a6a6a6"/>
<g clip-path="url(#bl2)">
<rect x="1448.1" y="808" width="32" height="82" fill="#000" opacity="0.05"/>
<rect x="1489.6" y="808" width="32" height="82" fill="#000" opacity="0.08"/>
<rect x="1531.5" y="808" width="32" height="82" fill="#000" opacity="0.05"/>
<rect x="1572.2" y="808" width="32" height="82" fill="#000" opacity="0.08"/>
<rect x="1612.7" y="808" width="32" height="82" fill="#000" opacity="0.05"/>
<rect x="1651.9" y="808" width="32" height="82" fill="#000" opacity="0.08"/>
<rect x="1690.8" y="808" width="32" height="82" fill="#000" opacity="0.05"/>
<rect x="1731.1" y="808" width="32" height="82" fill="#000" opacity="0.08"/>
<path d="M1608,810 L1604,850 L1596,888" stroke="#555" stroke-width="1.5" fill="none" opacity="0.6"/>
<rect x="1435.5" y="808.5" width="341.1" height="81.0" fill="#000" filter="url(#grain)" opacity="0.14"/>
<g filter="url(#b3)" fill="#0c0c0c">
<rect x="1442.1" y="831.9" width="31.8" height="9.0" rx="4.5" opacity="0.33"/>
<rect x="1484.4" y="831.9" width="31.8" height="9.0" rx="4.5" opacity="0.42"/>
<rect x="1528.1" y="833.2" width="31.8" height="9.0" rx="4.5" opacity="0.3"/>
<rect x="1572.3" y="835.8" width="31.8" height="9.0" rx="4.5" opacity="0.55"/>
<rect x="1612.8" y="835.3" width="31.8" height="9.0" rx="4.5" opacity="0.32"/>
<rect x="1653.9" y="835.8" width="31.8" height="9.0" rx="4.5" opacity="0.52"/>
<rect x="1694.9" y="835.8" width="31.8" height="9.0" rx="4.5" opacity="0.3"/>
<rect x="1736.0" y="837.1" width="31.8" height="9.0" rx="4.5" opacity="0.16"/>
</g></g>
<rect x="1435.5" y="808.5" width="341.1" height="81.0" fill="none" stroke="#1a1a1a" stroke-width="2.2"/>
<clipPath id="bl3"><rect x="1435.5" y="898.3" width="341.1" height="81.2"/></clipPath>
<rect x="1435.5" y="898.3" width="341.1" height="81.2" fill="#b1b1b1"/>
<g clip-path="url(#bl3)">
<rect x="1435.5" y="898.3" width="341.1" height="81.2" fill="#000" filter="url(#grain)" opacity="0.14"/>
<g filter="url(#b2)" fill="#0c0c0c">
<rect x="1441.4" y="934.5" width="30.4" height="7.4" rx="3.7" opacity="0.6"/>
<rect x="1483.0" y="934.5" width="30.4" height="7.4" rx="3.7" opacity="0.62"/>
<rect x="1524.8" y="934.2" width="30.4" height="7.9" rx="4.0" opacity="0.7"/>
<rect x="1565.2" y="932.9" width="31.8" height="9.5" rx="4.8" opacity="0.8"/>
<rect x="1607.6" y="932.4" width="29.1" height="5.3" rx="2.6" opacity="0.42" transform="rotate(-4 1622.1 935.0)"/>
<rect x="1648.7" y="927.9" width="30.4" height="7.9" rx="4.0" opacity="0.78" transform="rotate(-6 1663.9 931.8)"/>
<rect x="1690.7" y="926.3" width="29.7" height="5.8" rx="2.9" opacity="0.5" transform="rotate(-5 1705.5 929.2)"/>
<rect x="1732.7" y="922.0" width="30.4" height="7.4" rx="3.7" opacity="0.7" transform="rotate(-6 1747.9 925.7)"/>
<rect x="1443.4" y="950.9" width="26.5" height="7.9" rx="4.0" opacity="0.1"/>
<rect x="1485.0" y="950.9" width="26.5" height="7.9" rx="4.0" opacity="0.1"/>
<rect x="1526.8" y="950.9" width="26.5" height="7.9" rx="4.0" opacity="0.1"/>
<rect x="1567.8" y="950.9" width="26.5" height="7.9" rx="4.0" opacity="0.1"/>
</g></g>
<rect x="1435.5" y="898.3" width="341.1" height="81.2" fill="none" stroke="#1a1a1a" stroke-width="2.2"/>
<clipPath id="bl4"><rect x="1435.5" y="988.5" width="341.1" height="80.8"/></clipPath>
<rect x="1435.5" y="988.5" width="341.1" height="80.8" fill="#aaaaaa"/>
<g clip-path="url(#bl4)">
<rect x="1435.5" y="988.5" width="341.1" height="80.8" fill="#000" filter="url(#grain)" opacity="0.14"/>
<g filter="url(#b2)" fill="#0c0c0c">
<rect x="1442.6" y="1028.7" width="34.9" height="16.4" rx="6.0" opacity="0.86"/>
<rect x="1484.7" y="1029.3" width="34.9" height="16.4" rx="6.0" opacity="0.86"/>
<rect x="1526.0" y="1030.1" width="34.9" height="16.4" rx="6.0" opacity="0.86"/>
<rect x="1567.6" y="1030.6" width="34.9" height="16.4" rx="6.0" opacity="0.86"/>
<rect x="1608.6" y="1028.7" width="34.9" height="16.4" rx="6.0" opacity="0.86" transform="rotate(-3 1626.1 1036.9)"/>
<rect x="1651.0" y="1026.1" width="34.9" height="16.4" rx="6.0" opacity="0.86" transform="rotate(-4 1668.4 1034.3)"/>
<rect x="1693.3" y="1024.2" width="34.9" height="16.4" rx="6.0" opacity="0.86" transform="rotate(-4 1710.8 1032.4)"/>
<rect x="1735.7" y="1021.6" width="34.9" height="16.4" rx="6.0" opacity="0.86" transform="rotate(-5 1753.2 1029.8)"/>
</g></g>
<rect x="1435.5" y="988.5" width="341.1" height="80.8" fill="none" stroke="#1a1a1a" stroke-width="2.2"/>
<clipPath id="bl5"><rect x="1435.5" y="1078.5" width="341.1" height="80.8"/></clipPath>
<rect x="1435.5" y="1078.5" width="341.1" height="80.8" fill="#c3c3c3"/>
<g clip-path="url(#bl5)">
<linearGradient id="bipg" x1="0" y1="0" x2="1" y2="0"><stop offset="0" stop-color="#000" stop-opacity="0"/><stop offset="0.35" stop-color="#000" stop-opacity="0.02"/><stop offset="0.6" stop-color="#000" stop-opacity="0.09"/><stop offset="1" stop-color="#000" stop-opacity="0.1"/></linearGradient><rect x="1436" y="1078" width="342" height="82" fill="url(#bipg)"/>
<path d="M1436,1152 C1470,1156 1500,1152 1560,1160 L1436,1160 Z" fill="#555" opacity="0.45"/>
<rect x="1435.5" y="1078.5" width="341.1" height="80.8" fill="#000" filter="url(#grain)" opacity="0.25"/>
<g filter="url(#b2)" fill="#0c0c0c">
<rect x="1602.9" y="1118.5" width="30.4" height="6.9" rx="3.4" opacity="0.6"/>
<rect x="1646.1" y="1118.5" width="33.1" height="7.9" rx="4.0" opacity="0.75"/>
<rect x="1692.9" y="1118.8" width="33.1" height="7.4" rx="3.7" opacity="0.65"/>
<rect x="1737.3" y="1120.1" width="34.4" height="8.5" rx="4.2" opacity="0.75" transform="rotate(5 1754.5 1124.3)"/>
</g></g>
<rect x="1435.5" y="1078.5" width="341.1" height="80.8" fill="none" stroke="#1a1a1a" stroke-width="2.2"/>
<text x="1378.0" y="742.6" font-size="16">75</text>
<line x1="1419.5" y1="740.5" x2="1435.0" y2="740.5" stroke="#000" stroke-width="2.4"/>
<text x="1378.0" y="777.8" font-size="16">37</text>
<line x1="1419.5" y1="776.8" x2="1435.0" y2="776.8" stroke="#000" stroke-width="2.4"/>
<text x="1378.0" y="832.8" font-size="16">75</text>
<line x1="1419.5" y1="830.5" x2="1435.0" y2="830.5" stroke="#000" stroke-width="2.4"/>
<text x="1378.0" y="957.3" font-size="16">37</text>
<line x1="1419.5" y1="954.6" x2="1435.0" y2="954.6" stroke="#000" stroke-width="2.4"/>
<text x="1378.0" y="1049.4" font-size="16">50</text>
<line x1="1419.5" y1="1048.2" x2="1435.0" y2="1048.2" stroke="#000" stroke-width="2.4"/>
<text x="1378.0" y="1127.5" font-size="16">20</text>
<line x1="1419.5" y1="1126.0" x2="1435.0" y2="1126.0" stroke="#000" stroke-width="2.4"/>
<text x="1796.5" y="750.3" font-size="19.7">pERK1/2</text>
<text x="1796.5" y="773.5" font-size="19.7">(T202/Y204)</text>
<text x="1796.5" y="844.4" font-size="19.7">pp70S6K</text>
<text x="1796.5" y="867.6" font-size="19.7">(T389)</text>
<text x="1796.5" y="934.5" font-size="19.7">pCREB</text>
<text x="1796.5" y="957.7" font-size="19.7">(S133)</text>
<text x="1796.5" y="1035.9" font-size="19.7">α-Tubulin</text>
<text x="1796.5" y="1126.0" font-size="19.7">BiP (IR)</text>
</g>
<g id="panelG">
<text transform="translate(0.0 1524.9) scale(0.96 1)" font-size="56.8" font-weight="bold">G</text>
<rect x="327.3" y="1510.0" width="42.4" height="17.8" fill="#767171" stroke="#111" stroke-width="2.4"/>
<rect x="327.3" y="1535.9" width="42.4" height="15.9" fill="#e06666" stroke="#111" stroke-width="2.4"/>
<text x="389.9" y="1532.6" font-size="23.8">CB1R + Control vector</text>
<text x="389.9" y="1556.6" font-size="23.8">CB1R + BiP-IR</text>
<rect x="201.2" y="1605.7" width="38.0" height="253.2" fill="#767171" stroke="#111" stroke-width="2.9"/>
<line x1="220.2" y1="1596.6" x2="220.2" y2="1605.7" stroke="#000" stroke-width="2.4"/>
<line x1="210.2" y1="1596.6" x2="230.2" y2="1596.6" stroke="#000" stroke-width="2.4"/>
<rect x="264.7" y="1649.1" width="37.5" height="209.9" fill="#e06666" stroke="#111" stroke-width="2.9"/>
<line x1="283.5" y1="1644.7" x2="283.5" y2="1649.1" stroke="#000" stroke-width="2.4"/>
<line x1="273.5" y1="1644.7" x2="293.5" y2="1644.7" stroke="#000" stroke-width="2.4"/>
<rect x="329.7" y="1641.8" width="37.5" height="217.1" fill="#767171" stroke="#111" stroke-width="2.9"/>
<line x1="348.5" y1="1639.4" x2="348.5" y2="1641.8" stroke="#000" stroke-width="2.4"/>
<line x1="338.5" y1="1639.4" x2="358.5" y2="1639.4" stroke="#000" stroke-width="2.4"/>
<rect x="393.3" y="1648.1" width="37.5" height="210.8" fill="#e06666" stroke="#111" stroke-width="2.9"/>
<line x1="412.0" y1="1646.2" x2="412.0" y2="1648.1" stroke="#000" stroke-width="2.4"/>
<line x1="402.0" y1="1646.2" x2="422.0" y2="1646.2" stroke="#000" stroke-width="2.4"/>
<rect x="457.3" y="1664.0" width="37.5" height="194.9" fill="#767171" stroke="#111" stroke-width="2.9"/>
<line x1="476.1" y1="1660.6" x2="476.1" y2="1664.0" stroke="#000" stroke-width="2.4"/>
<line x1="466.1" y1="1660.6" x2="486.1" y2="1660.6" stroke="#000" stroke-width="2.4"/>
<rect x="521.3" y="1644.2" width="38.0" height="214.7" fill="#e06666" stroke="#111" stroke-width="2.9"/>
<line x1="540.3" y1="1637.0" x2="540.3" y2="1644.2" stroke="#000" stroke-width="2.4"/>
<line x1="530.3" y1="1637.0" x2="550.3" y2="1637.0" stroke="#000" stroke-width="2.4"/>
<rect x="585.8" y="1649.5" width="37.5" height="209.4" fill="#767171" stroke="#111" stroke-width="2.9"/>
<line x1="604.6" y1="1642.3" x2="604.6" y2="1649.5" stroke="#000" stroke-width="2.4"/>
<line x1="594.6" y1="1642.3" x2="614.6" y2="1642.3" stroke="#000" stroke-width="2.4"/>
<rect x="649.8" y="1645.7" width="37.5" height="213.2" fill="#e06666" stroke="#111" stroke-width="2.9"/>
<line x1="668.6" y1="1640.4" x2="668.6" y2="1645.7" stroke="#000" stroke-width="2.4"/>
<line x1="658.6" y1="1640.4" x2="678.6" y2="1640.4" stroke="#000" stroke-width="2.4"/>
<line x1="177.0" y1="1651.0" x2="720.0" y2="1651.0" stroke="#000" stroke-width="1.9" stroke-dasharray="8.2 6"/>
<line x1="177.0" y1="1544.1" x2="177.0" y2="1860.9" stroke="#000" stroke-width="4.0"/>
<line x1="161.0" y1="1858.9" x2="712.5" y2="1858.9" stroke="#000" stroke-width="4.0"/>
<line x1="161.0" y1="1546.8" x2="177.0" y2="1546.8" stroke="#000" stroke-width="3"/>
<text x="158.5" y="1557.5" font-size="26.8" text-anchor="end">150</text>
<line x1="161.0" y1="1651.7" x2="177.0" y2="1651.7" stroke="#000" stroke-width="3"/>
<text x="158.5" y="1662.4" font-size="26.8" text-anchor="end">100</text>
<line x1="161.0" y1="1755.7" x2="177.0" y2="1755.7" stroke="#000" stroke-width="3"/>
<text x="158.5" y="1766.4" font-size="26.8" text-anchor="end">50</text>
<line x1="161.0" y1="1859.6" x2="177.0" y2="1859.6" stroke="#000" stroke-width="3"/>
<text x="158.5" y="1870.3" font-size="26.8" text-anchor="end">0</text>
<line x1="250.8" y1="1858.9" x2="250.8" y2="1870.9" stroke="#000" stroke-width="3.8"/>
<line x1="379.3" y1="1858.9" x2="379.3" y2="1870.9" stroke="#000" stroke-width="3.8"/>
<line x1="507.8" y1="1858.9" x2="507.8" y2="1870.9" stroke="#000" stroke-width="3.8"/>
<line x1="635.4" y1="1858.9" x2="635.4" y2="1870.9" stroke="#000" stroke-width="3.8"/>
<text x="270.5" y="1899.8" font-size="27" text-anchor="middle"><tspan>Gα</tspan><tspan font-size="19.5" dy="6.5">q/11</tspan></text>
<text x="388.9" y="1899.8" font-size="27" text-anchor="middle"><tspan>Gα</tspan><tspan font-size="19.5" dy="6.5">s</tspan></text>
<text x="519.9" y="1899.8" font-size="27" text-anchor="middle"><tspan>Gα</tspan><tspan font-size="19.5" dy="6.5">z</tspan></text>
<text x="670.0" y="1899.8" font-size="27" text-anchor="middle"><tspan>Gα</tspan><tspan font-size="19.5" dy="6.5">12/13</tspan></text>
<text x="255.1" y="1548.0" font-size="24" text-anchor="middle" stroke="#000" stroke-width="0.45">##</text>
<line x1="215.6" y1="1555.7" x2="293.6" y2="1555.7" stroke="#000" stroke-width="2"/>
<text x="221.4" y="1599.4" font-size="35" text-anchor="middle" stroke="#000" stroke-width="0.45">*</text>
<text x="57.5" y="1694.0" font-size="31.5" text-anchor="middle" transform="rotate(-90 57.5 1694.0)">Gα subunit</text>
<text x="95.0" y="1693.0" font-size="31.5" text-anchor="middle" transform="rotate(-90 95.0 1693.0)">stimulation (%)</text>
</g>
<g id="panelH">
<text transform="translate(812.0 1524.9) scale(0.96 1)" font-size="56.8" font-weight="bold">H</text>
<text x="987.0" y="1569.7" font-size="31.5" text-anchor="middle">+Vehicle</text>
<line x1="883.2" y1="1583.5" x2="1101.2" y2="1583.5" stroke="#000" stroke-width="2"/>
<text x="1220.1" y="1569.7" font-size="31.5" text-anchor="middle">+YM-254890</text>
<line x1="1114.9" y1="1583.5" x2="1333.6" y2="1583.5" stroke="#000" stroke-width="2"/>
<text x="1454.0" y="1573.2" font-size="31.5" text-anchor="middle">+GFP</text>
<line x1="1343.9" y1="1583.5" x2="1564.0" y2="1583.5" stroke="#000" stroke-width="2"/>
<text x="1680.9" y="1573.2" font-size="31.5" text-anchor="middle">+GFP-GRK2</text>
<line x1="1575.7" y1="1583.5" x2="1795.7" y2="1583.5" stroke="#000" stroke-width="2"/>
<text x="872.0" y="1615.5" font-size="28" text-anchor="end">Time (min)</text>
<text x="872.0" y="1650.0" font-size="28" text-anchor="end">WIN</text>
<text x="912.7" y="1617.0" font-size="28" text-anchor="middle">5</text>
<text x="943.0" y="1617.0" font-size="28" text-anchor="middle">5</text>
<text x="974.6" y="1617.0" font-size="28" text-anchor="middle">10</text>
<text x="1011.8" y="1617.0" font-size="28" text-anchor="middle">10</text>
<text x="1049.6" y="1617.0" font-size="28" text-anchor="middle">15</text>
<text x="1086.0" y="1617.0" font-size="28" text-anchor="middle">15</text>
<text x="1127.3" y="1617.0" font-size="28" text-anchor="middle">5</text>
<text x="1156.9" y="1617.0" font-size="28" text-anchor="middle">5</text>
<text x="1187.8" y="1617.0" font-size="28" text-anchor="middle">10</text>
<text x="1225.6" y="1617.0" font-size="28" text-anchor="middle">10</text>
<text x="1263.5" y="1617.0" font-size="28" text-anchor="middle">15</text>
<text x="1300.6" y="1617.0" font-size="28" text-anchor="middle">15</text>
<text x="1374.9" y="1617.0" font-size="28" text-anchor="middle">5</text>
<text x="1405.8" y="1617.0" font-size="28" text-anchor="middle">5</text>
<text x="1436.8" y="1617.0" font-size="28" text-anchor="middle">10</text>
<text x="1474.6" y="1617.0" font-size="28" text-anchor="middle">10</text>
<text x="1511.0" y="1617.0" font-size="28" text-anchor="middle">15</text>
<text x="1548.2" y="1617.0" font-size="28" text-anchor="middle">15</text>
<text x="1588.1" y="1617.0" font-size="28" text-anchor="middle">5</text>
<text x="1619.0" y="1617.0" font-size="28" text-anchor="middle">5</text>
<text x="1650.0" y="1617.0" font-size="28" text-anchor="middle">10</text>
<text x="1687.8" y="1617.0" font-size="28" text-anchor="middle">10</text>
<text x="1725.6" y="1617.0" font-size="28" text-anchor="middle">15</text>
<text x="1762.1" y="1617.0" font-size="28" text-anchor="middle">15</text>
<text x="908.6" y="1649.5" font-size="27" text-anchor="middle">-</text>
<text x="943.7" y="1651.5" font-size="27" text-anchor="middle">+</text>
<text x="979.4" y="1649.5" font-size="27" text-anchor="middle">-</text>
<text x="1015.2" y="1651.5" font-size="27" text-anchor="middle">+</text>
<text x="1050.3" y="1649.5" font-size="27" text-anchor="middle">-</text>
<text x="1086.0" y="1651.5" font-size="27" text-anchor="middle">+</text>
<text x="1121.8" y="1649.5" font-size="27" text-anchor="middle">-</text>
<text x="1156.9" y="1651.5" font-size="27" text-anchor="middle">+</text>
<text x="1192.6" y="1649.5" font-size="27" text-anchor="middle">-</text>
<text x="1228.4" y="1651.5" font-size="27" text-anchor="middle">+</text>
<text x="1263.5" y="1649.5" font-size="27" text-anchor="middle">-</text>
<text x="1300.6" y="1651.5" font-size="27" text-anchor="middle">+</text>
<text x="1370.1" y="1649.5" font-size="27" text-anchor="middle">-</text>
<text x="1405.8" y="1651.5" font-size="27" text-anchor="middle">+</text>
<text x="1441.6" y="1649.5" font-size="27" text-anchor="middle">-</text>
<text x="1476.7" y="1651.5" font-size="27" text-anchor="middle">+</text>
<text x="1512.4" y="1649.5" font-size="27" text-anchor="middle">-</text>
<text x="1548.2" y="1651.5" font-size="27" text-anchor="middle">+</text>
<text x="1583.2" y="1649.5" font-size="27" text-anchor="middle">-</text>
<text x="1619.0" y="1651.5" font-size="27" text-anchor="middle">+</text>
<text x="1654.8" y="1649.5" font-size="27" text-anchor="middle">-</text>
<text x="1689.8" y="1651.5" font-size="27" text-anchor="middle">+</text>
<text x="1725.6" y="1649.5" font-size="27" text-anchor="middle">-</text>
<text x="1762.1" y="1651.5" font-size="27" text-anchor="middle">+</text>
<clipPath id="bl6"><rect x="881.3" y="1659.4" width="453.7" height="80.6"/></clipPath>
<rect x="881.3" y="1659.4" width="453.7" height="80.6" fill="#8f8f8f"/>
<g clip-path="url(#bl6)">
<linearGradient id="hg1" x1="0" y1="0" x2="0" y2="1"><stop offset="0" stop-color="#000" stop-opacity="0.16"/><stop offset="0.45" stop-color="#000" stop-opacity="0.02"/><stop offset="1" stop-color="#000" stop-opacity="0"/></linearGradient><rect x="881" y="1659" width="454" height="82" fill="url(#hg1)"/>
<rect x="881.3" y="1659.4" width="453.7" height="80.6" fill="#000" filter="url(#grain)" opacity="0.14"/>
<g filter="url(#b2)" fill="#0c0c0c">
<rect x="891.6" y="1693.5" width="25.0" height="5.6" rx="2.8" opacity="0.6"/>
<rect x="924.5" y="1691.3" width="31.3" height="13.1" rx="6.0" opacity="1"/>
<rect x="926.0" y="1693.3" width="28.2" height="9.2" rx="4.6" opacity="1"/>
<rect x="965.2" y="1696.5" width="25.0" height="4.7" rx="2.3" opacity="0.3"/>
<rect x="998.9" y="1692.9" width="31.3" height="11.9" rx="5.9" opacity="1"/>
<rect x="1000.5" y="1694.7" width="28.2" height="8.3" rx="4.2" opacity="1"/>
<rect x="1038.7" y="1696.6" width="25.0" height="5.6" rx="2.8" opacity="0.4"/>
<rect x="1072.2" y="1692.9" width="31.3" height="13.1" rx="6.0" opacity="1"/>
<rect x="1073.7" y="1694.8" width="28.2" height="9.2" rx="4.6" opacity="1"/>
<rect x="1113.8" y="1698.7" width="21.9" height="4.7" rx="2.3" opacity="0.25"/>
<rect x="1149.0" y="1696.3" width="29.7" height="9.4" rx="4.7" opacity="1"/>
<rect x="1150.5" y="1697.7" width="26.8" height="6.6" rx="3.3" opacity="1"/>
<rect x="1190.4" y="1701.8" width="25.0" height="4.7" rx="2.3" opacity="0.22"/>
<rect x="1224.1" y="1702.9" width="29.7" height="8.8" rx="4.4" opacity="1"/>
<rect x="1225.6" y="1704.2" width="26.8" height="6.1" rx="3.1" opacity="1"/>
<rect x="1264.0" y="1707.1" width="25.0" height="4.7" rx="2.3" opacity="0.35"/>
<rect x="1299.2" y="1706.3" width="29.7" height="10.0" rx="5.0" opacity="1"/>
<rect x="1300.7" y="1707.8" width="26.8" height="7.0" rx="3.5" opacity="1"/>
<rect x="925.3" y="1681.9" width="29.7" height="6.9" rx="3.4" opacity="0.95"/>
<rect x="1000.5" y="1684.1" width="28.2" height="5.6" rx="2.8" opacity="0.8"/>
<rect x="1072.9" y="1683.5" width="29.7" height="6.9" rx="3.4" opacity="0.95"/>
<rect x="1150.5" y="1685.7" width="26.6" height="5.6" rx="2.8" opacity="0.65"/>
<rect x="1225.6" y="1691.0" width="26.6" height="5.6" rx="2.8" opacity="0.5"/>
<rect x="1300.7" y="1695.5" width="26.6" height="4.7" rx="2.3" opacity="0.45"/>
<rect x="891.1" y="1684.4" width="26.0" height="5.0" rx="2.5" opacity="0.12"/>
<rect x="964.7" y="1684.4" width="26.0" height="5.0" rx="2.5" opacity="0.12"/>
<rect x="1038.2" y="1684.4" width="26.0" height="5.0" rx="2.5" opacity="0.12"/>
<rect x="1111.7" y="1684.4" width="26.0" height="5.0" rx="2.5" opacity="0.12"/>
<rect x="1190.0" y="1684.4" width="26.0" height="5.0" rx="2.5" opacity="0.12"/>
<rect x="1263.5" y="1684.4" width="26.0" height="5.0" rx="2.5" opacity="0.12"/>
</g></g>
<rect x="881.3" y="1659.4" width="453.7" height="80.6" fill="none" stroke="#1a1a1a" stroke-width="2.2"/>
<clipPath id="bl7"><rect x="881.3" y="1753.3" width="453.7" height="80.7"/></clipPath>
<rect x="881.3" y="1753.3" width="453.7" height="80.7" fill="#a2a2a2"/>
<g clip-path="url(#bl7)">
<linearGradient id="hg2" x1="0" y1="0" x2="0" y2="1"><stop offset="0" stop-color="#000" stop-opacity="0.1"/><stop offset="0.5" stop-color="#000" stop-opacity="0.03"/><stop offset="1" stop-color="#fff" stop-opacity="0.06"/></linearGradient><rect x="881" y="1753" width="454" height="82" fill="url(#hg2)"/>
<rect x="881.3" y="1753.3" width="453.7" height="80.7" fill="#000" filter="url(#grain)" opacity="0.14"/>
<g filter="url(#b2)" fill="#0c0c0c">
<rect x="889.7" y="1792.7" width="28.8" height="7.5" rx="3.8" opacity="0.62"/>
<rect x="890.4" y="1779.2" width="27.5" height="6.3" rx="3.1" opacity="0.2"/>
<rect x="925.7" y="1792.7" width="28.8" height="7.5" rx="3.8" opacity="0.62"/>
<rect x="926.4" y="1779.2" width="27.5" height="6.3" rx="3.1" opacity="0.2"/>
<rect x="963.3" y="1792.7" width="28.8" height="7.5" rx="3.8" opacity="0.62"/>
<rect x="963.9" y="1779.2" width="27.5" height="6.3" rx="3.1" opacity="0.2"/>
<rect x="1000.2" y="1792.7" width="28.8" height="7.5" rx="3.8" opacity="0.62"/>
<rect x="1000.8" y="1779.2" width="27.5" height="6.3" rx="3.1" opacity="0.2"/>
<rect x="1036.8" y="1792.7" width="28.8" height="7.5" rx="3.8" opacity="0.62"/>
<rect x="1037.4" y="1779.2" width="27.5" height="6.3" rx="3.1" opacity="0.2"/>
<rect x="1073.4" y="1792.7" width="28.8" height="7.5" rx="3.8" opacity="0.62"/>
<rect x="1074.0" y="1779.2" width="27.5" height="6.3" rx="3.1" opacity="0.2"/>
<rect x="1110.3" y="1792.7" width="28.8" height="7.5" rx="3.8" opacity="0.5"/>
<rect x="1111.0" y="1779.2" width="27.5" height="6.3" rx="3.1" opacity="0.2"/>
<rect x="1149.4" y="1792.7" width="28.8" height="7.5" rx="3.8" opacity="0.5"/>
<rect x="1150.1" y="1779.2" width="27.5" height="6.3" rx="3.1" opacity="0.2"/>
<rect x="1188.6" y="1792.7" width="28.8" height="7.5" rx="3.8" opacity="0.62"/>
<rect x="1189.2" y="1779.2" width="27.5" height="6.3" rx="3.1" opacity="0.2"/>
<rect x="1224.5" y="1793.9" width="28.8" height="7.5" rx="3.8" opacity="0.62"/>
<rect x="1225.2" y="1779.2" width="27.5" height="6.3" rx="3.1" opacity="0.2"/>
<rect x="1262.1" y="1793.9" width="28.8" height="7.5" rx="3.8" opacity="0.62"/>
<rect x="1262.7" y="1779.2" width="27.5" height="6.3" rx="3.1" opacity="0.2"/>
<rect x="1299.6" y="1793.9" width="28.8" height="7.5" rx="3.8" opacity="0.62"/>
<rect x="1300.3" y="1779.2" width="27.5" height="6.3" rx="3.1" opacity="0.2"/>
</g></g>
<rect x="881.3" y="1753.3" width="453.7" height="80.7" fill="none" stroke="#1a1a1a" stroke-width="2.2"/>
<clipPath id="bl8"><rect x="881.3" y="1847.0" width="453.7" height="80.3"/></clipPath>
<rect x="881.3" y="1847.0" width="453.7" height="80.3" fill="#8b8b8b"/>
<g clip-path="url(#bl8)">
<path d="M1240,1849 l6,14 M1246,1849 l6,16 M1252,1849 l6,16 M1258,1849 l5,15 M1264,1850 l4,14 M1280,1852 l3,20" stroke="#333" stroke-width="1.6" opacity="0.7" fill="none"/>
<rect x="881.3" y="1847.0" width="453.7" height="80.3" fill="#000" filter="url(#grain)" opacity="0.14"/>
<g filter="url(#b2)" fill="#0c0c0c">
<rect x="885.2" y="1870.0" width="32.9" height="25.0" rx="6.0" opacity="0.85"/>
<rect x="887.6" y="1875.0" width="28.2" height="15.0" rx="6.0" opacity="0.6"/>
<rect x="923.7" y="1873.9" width="32.9" height="17.2" rx="6.0" opacity="0.85"/>
<rect x="926.0" y="1877.3" width="28.2" height="10.3" rx="5.2" opacity="0.6"/>
<rect x="961.2" y="1876.5" width="32.9" height="11.9" rx="5.9" opacity="0.85"/>
<rect x="963.6" y="1878.9" width="28.2" height="7.1" rx="3.6" opacity="0.6"/>
<rect x="998.2" y="1873.9" width="32.9" height="17.2" rx="6.0" opacity="0.85"/>
<rect x="1000.5" y="1877.3" width="28.2" height="10.3" rx="5.2" opacity="0.6"/>
<rect x="1034.8" y="1875.5" width="32.9" height="14.1" rx="6.0" opacity="0.85"/>
<rect x="1037.1" y="1878.3" width="28.2" height="8.4" rx="4.2" opacity="0.6"/>
<rect x="1071.4" y="1874.7" width="32.9" height="15.6" rx="6.0" opacity="0.85"/>
<rect x="1073.7" y="1877.8" width="28.2" height="9.4" rx="4.7" opacity="0.6"/>
<rect x="1108.3" y="1873.4" width="32.9" height="18.1" rx="6.0" opacity="0.85"/>
<rect x="1110.7" y="1877.0" width="28.2" height="10.9" rx="5.4" opacity="0.6"/>
<rect x="1147.4" y="1873.9" width="32.9" height="17.2" rx="6.0" opacity="0.85"/>
<rect x="1149.8" y="1877.3" width="28.2" height="10.3" rx="5.2" opacity="0.6"/>
<rect x="1186.5" y="1875.5" width="32.9" height="17.2" rx="6.0" opacity="0.85"/>
<rect x="1188.9" y="1878.9" width="28.2" height="10.3" rx="5.2" opacity="0.6"/>
<rect x="1222.5" y="1875.5" width="32.9" height="17.2" rx="6.0" opacity="0.85"/>
<rect x="1224.9" y="1878.9" width="28.2" height="10.3" rx="5.2" opacity="0.6"/>
<rect x="1260.1" y="1876.2" width="32.9" height="15.6" rx="6.0" opacity="0.85"/>
<rect x="1262.4" y="1879.4" width="28.2" height="9.4" rx="4.7" opacity="0.6"/>
<rect x="1297.6" y="1879.2" width="32.9" height="17.2" rx="6.0" opacity="0.85"/>
<rect x="1299.9" y="1882.6" width="28.2" height="10.3" rx="5.2" opacity="0.6"/>
</g></g>
<rect x="881.3" y="1847.0" width="453.7" height="80.3" fill="none" stroke="#1a1a1a" stroke-width="2.2"/>
<clipPath id="bl9"><rect x="1344.2" y="1658.7" width="454.4" height="81.3"/></clipPath>
<rect x="1344.2" y="1658.7" width="454.4" height="81.3" fill="#919191"/>
<g clip-path="url(#bl9)">
<rect x="1344.2" y="1658.7" width="454.4" height="81.3" fill="#000" filter="url(#grain)" opacity="0.14"/>
<g filter="url(#b2)" fill="#0c0c0c">
<rect x="1355.9" y="1704.1" width="29.2" height="8.2" rx="4.1" opacity="0.26"/>
<rect x="1356.2" y="1694.4" width="28.5" height="7.5" rx="3.7" opacity="0.06"/>
<rect x="1390.3" y="1704.1" width="29.2" height="8.2" rx="4.1" opacity="0.7"/>
<rect x="1390.7" y="1694.4" width="28.5" height="7.5" rx="3.7" opacity="0.36"/>
<rect x="1425.2" y="1704.1" width="29.2" height="8.2" rx="4.1" opacity="0.3"/>
<rect x="1425.6" y="1694.4" width="28.5" height="7.5" rx="3.7" opacity="0.08"/>
<rect x="1459.7" y="1704.1" width="29.2" height="8.2" rx="4.1" opacity="0.85"/>
<rect x="1460.1" y="1694.4" width="28.5" height="7.5" rx="3.7" opacity="0.58"/>
<rect x="1495.3" y="1704.1" width="29.2" height="8.2" rx="4.1" opacity="0.24"/>
<rect x="1495.7" y="1694.4" width="28.5" height="7.5" rx="3.7" opacity="0.06"/>
<rect x="1530.9" y="1704.1" width="29.2" height="8.2" rx="4.1" opacity="0.58"/>
<rect x="1531.3" y="1694.4" width="28.5" height="7.5" rx="3.7" opacity="0.3"/>
<rect x="1565.8" y="1704.1" width="29.2" height="8.2" rx="4.1" opacity="0.24"/>
<rect x="1566.1" y="1694.4" width="28.5" height="7.5" rx="3.7" opacity="0.08"/>
<rect x="1601.4" y="1704.1" width="29.2" height="8.2" rx="4.1" opacity="0.72"/>
<rect x="1601.8" y="1694.4" width="28.5" height="7.5" rx="3.7" opacity="0.36"/>
<rect x="1637.7" y="1704.1" width="29.2" height="8.2" rx="4.1" opacity="0.14"/>
<rect x="1638.1" y="1694.4" width="28.5" height="7.5" rx="3.7" opacity="0.04"/>
<rect x="1673.4" y="1704.1" width="29.2" height="8.2" rx="4.1" opacity="0.6"/>
<rect x="1673.7" y="1694.4" width="28.5" height="7.5" rx="3.7" opacity="0.3"/>
<rect x="1712.7" y="1704.1" width="29.2" height="8.2" rx="4.1" opacity="0.18"/>
<rect x="1713.1" y="1694.4" width="28.5" height="7.5" rx="3.7" opacity="0.06"/>
<rect x="1750.2" y="1704.1" width="29.2" height="8.2" rx="4.1" opacity="0.32"/>
<rect x="1750.6" y="1694.4" width="28.5" height="7.5" rx="3.7" opacity="0.12"/>
</g></g>
<rect x="1344.2" y="1658.7" width="454.4" height="81.3" fill="none" stroke="#1a1a1a" stroke-width="2.2"/>
<clipPath id="bl10"><rect x="1344.2" y="1752.5" width="454.4" height="81.3"/></clipPath>
<rect x="1344.2" y="1752.5" width="454.4" height="81.3" fill="#949494"/>
<g clip-path="url(#bl10)">
<rect x="1344.2" y="1752.5" width="454.4" height="81.3" fill="#000" filter="url(#grain)" opacity="0.14"/>
<g filter="url(#b2)" fill="#0c0c0c">
<rect x="1355.1" y="1789.9" width="30.7" height="9.0" rx="4.5" opacity="0.78"/>
<rect x="1355.9" y="1784.3" width="29.2" height="6.0" rx="3.0" opacity="0.22"/>
<rect x="1389.6" y="1789.9" width="30.7" height="9.0" rx="4.5" opacity="0.78"/>
<rect x="1390.3" y="1784.3" width="29.2" height="6.0" rx="3.0" opacity="0.22"/>
<rect x="1424.5" y="1789.9" width="30.7" height="9.0" rx="4.5" opacity="0.78"/>
<rect x="1425.2" y="1784.3" width="29.2" height="6.0" rx="3.0" opacity="0.22"/>
<rect x="1458.9" y="1789.9" width="30.7" height="9.0" rx="4.5" opacity="0.78"/>
<rect x="1459.7" y="1784.3" width="29.2" height="6.0" rx="3.0" opacity="0.22"/>
<rect x="1494.5" y="1791.4" width="30.7" height="9.0" rx="4.5" opacity="0.78"/>
<rect x="1495.3" y="1784.3" width="29.2" height="6.0" rx="3.0" opacity="0.22"/>
<rect x="1530.2" y="1791.4" width="30.7" height="9.0" rx="4.5" opacity="0.78"/>
<rect x="1530.9" y="1784.3" width="29.2" height="6.0" rx="3.0" opacity="0.22"/>
<rect x="1565.0" y="1791.4" width="30.7" height="9.0" rx="4.5" opacity="0.78"/>
<rect x="1565.8" y="1784.3" width="29.2" height="6.0" rx="3.0" opacity="0.22"/>
<rect x="1600.6" y="1791.4" width="30.7" height="9.0" rx="4.5" opacity="0.78"/>
<rect x="1601.4" y="1784.3" width="29.2" height="6.0" rx="3.0" opacity="0.22"/>
<rect x="1637.0" y="1791.4" width="30.7" height="9.0" rx="4.5" opacity="0.78"/>
<rect x="1637.7" y="1784.3" width="29.2" height="6.0" rx="3.0" opacity="0.22"/>
<rect x="1672.6" y="1791.4" width="30.7" height="9.0" rx="4.5" opacity="0.78"/>
<rect x="1673.4" y="1784.3" width="29.2" height="6.0" rx="3.0" opacity="0.22"/>
<rect x="1712.0" y="1791.4" width="30.7" height="9.0" rx="4.5" opacity="0.78"/>
<rect x="1712.7" y="1784.3" width="29.2" height="6.0" rx="3.0" opacity="0.22"/>
<rect x="1749.5" y="1793.7" width="30.7" height="9.0" rx="4.5" opacity="0.78"/>
<rect x="1750.2" y="1784.3" width="29.2" height="6.0" rx="3.0" opacity="0.22"/>
</g></g>
<rect x="1344.2" y="1752.5" width="454.4" height="81.3" fill="none" stroke="#1a1a1a" stroke-width="2.2"/>
<clipPath id="bl11"><rect x="1344.2" y="1847.0" width="454.4" height="81.0"/></clipPath>
<rect x="1344.2" y="1847.0" width="454.4" height="81.0" fill="#8b8b8b"/>
<g clip-path="url(#bl11)">
<rect x="1344.2" y="1847.0" width="454.4" height="81.0" fill="#000" filter="url(#grain)" opacity="0.14"/>
<g filter="url(#b2)" fill="#0c0c0c">
<rect x="1354.4" y="1877.7" width="32.2" height="15.7" rx="6.0" opacity="0.9"/>
<rect x="1356.2" y="1880.3" width="28.5" height="10.5" rx="5.2" opacity="0.8"/>
<rect x="1388.8" y="1877.7" width="32.2" height="15.7" rx="6.0" opacity="0.9"/>
<rect x="1390.7" y="1880.3" width="28.5" height="10.5" rx="5.2" opacity="0.8"/>
<rect x="1423.7" y="1877.7" width="32.2" height="15.7" rx="6.0" opacity="0.9"/>
<rect x="1425.6" y="1880.3" width="28.5" height="10.5" rx="5.2" opacity="0.8"/>
<rect x="1458.2" y="1877.7" width="32.2" height="15.7" rx="6.0" opacity="0.9"/>
<rect x="1460.1" y="1880.3" width="28.5" height="10.5" rx="5.2" opacity="0.8"/>
<rect x="1493.8" y="1877.7" width="32.2" height="15.7" rx="6.0" opacity="0.9"/>
<rect x="1495.7" y="1880.3" width="28.5" height="10.5" rx="5.2" opacity="0.8"/>
<rect x="1529.4" y="1877.7" width="32.2" height="15.7" rx="6.0" opacity="0.9"/>
<rect x="1531.3" y="1880.3" width="28.5" height="10.5" rx="5.2" opacity="0.8"/>
<rect x="1564.3" y="1877.7" width="32.2" height="15.7" rx="6.0" opacity="0.9"/>
<rect x="1566.1" y="1880.3" width="28.5" height="10.5" rx="5.2" opacity="0.8"/>
<rect x="1599.9" y="1877.7" width="32.2" height="15.7" rx="6.0" opacity="0.9"/>
<rect x="1601.8" y="1880.3" width="28.5" height="10.5" rx="5.2" opacity="0.8"/>
<rect x="1636.2" y="1877.7" width="32.2" height="15.7" rx="6.0" opacity="0.9"/>
<rect x="1638.1" y="1880.3" width="28.5" height="10.5" rx="5.2" opacity="0.8"/>
<rect x="1671.9" y="1880.3" width="32.2" height="15.7" rx="6.0" opacity="0.9"/>
<rect x="1673.7" y="1882.9" width="28.5" height="10.5" rx="5.2" opacity="0.8"/>
<rect x="1711.2" y="1880.3" width="32.2" height="15.7" rx="6.0" opacity="0.9"/>
<rect x="1713.1" y="1882.9" width="28.5" height="10.5" rx="5.2" opacity="0.8"/>
<rect x="1748.7" y="1879.2" width="32.2" height="15.7" rx="6.0" opacity="0.9"/>
<rect x="1750.6" y="1881.8" width="28.5" height="10.5" rx="5.2" opacity="0.8"/>
</g></g>
<rect x="1344.2" y="1847.0" width="454.4" height="81.0" fill="none" stroke="#1a1a1a" stroke-width="2.2"/>
<clipPath id="bl12"><rect x="1344.2" y="1940.6" width="454.4" height="81.8"/></clipPath>
<rect x="1344.2" y="1940.6" width="454.4" height="81.8" fill="#929292"/>
<g clip-path="url(#bl12)">
<g filter="url(#b3)"><path d="M1357.4,1974.6 L1373.3,1965.7 L1395.7,1967.6 L1427.6,1974.6 L1472.2,1967.6 L1497.7,1969.9 L1523.2,1977.8 L1545.5,1974.6 L1574.2,1981.0 L1574.2,1987.4 L1357.4,1982.6 Z" fill="#111" opacity="0.32"/><path d="M1357.4,1982.6 L1574.2,1987.4 L1574.2,2004.0 L1555.1,2001.7 L1523.2,2002.7 L1491.3,1998.6 L1449.9,2000.8 L1411.6,1995.4 L1373.3,1997.0 L1359.0,1990.6 Z" fill="#111" opacity="0.3"/></g>
<g filter="url(#b2)"><path d="M1347.8,1977.8 L1395.7,1977.8 L1443.5,1981.0 L1491.3,1983.6 L1539.2,1984.8 L1571.0,1982.6 L1602.9,1989.9 L1571.0,1992.5 L1523.2,1992.5 L1475.4,1990.6 L1427.6,1988.0 L1379.7,1984.8 L1347.8,1981.7 Z" fill="#0a0a0a" opacity="0.8"/></g>
<rect x="1344.2" y="1940.6" width="454.4" height="81.8" fill="#000" filter="url(#grain)" opacity="0.14"/>
<g filter="url(#b2)" fill="#0c0c0c">
<rect x="1573.9" y="1955.0" width="21.0" height="5.5" rx="2.8" opacity="0.62" transform="rotate(2 1584.4 1957.7)"/>
<rect x="1591.5" y="1956.5" width="21.0" height="5.5" rx="2.8" opacity="0.6" transform="rotate(2 1602.0 1959.2)"/>
<rect x="1609.0" y="1956.0" width="21.0" height="5.5" rx="2.8" opacity="0.58" transform="rotate(2 1619.5 1958.8)"/>
<rect x="1626.6" y="1957.5" width="21.0" height="5.5" rx="2.8" opacity="0.56" transform="rotate(2 1637.1 1960.2)"/>
<rect x="1644.1" y="1957.0" width="21.0" height="5.5" rx="2.8" opacity="0.54" transform="rotate(2 1654.6 1959.8)"/>
<rect x="1661.6" y="1958.5" width="21.0" height="5.5" rx="2.8" opacity="0.52" transform="rotate(2 1672.1 1961.2)"/>
<rect x="1679.2" y="1958.1" width="21.0" height="5.5" rx="2.8" opacity="0.5" transform="rotate(2 1689.7 1960.8)"/>
<rect x="1696.7" y="1959.5" width="21.0" height="5.5" rx="2.8" opacity="0.48" transform="rotate(2 1707.2 1962.3)"/>
<rect x="1714.2" y="1959.1" width="21.0" height="5.5" rx="2.8" opacity="0.45999999999999996" transform="rotate(2 1724.7 1961.8)"/>
<rect x="1731.8" y="1960.5" width="21.0" height="5.5" rx="2.8" opacity="0.44" transform="rotate(2 1742.3 1963.3)"/>
<rect x="1749.3" y="1960.1" width="21.0" height="5.5" rx="2.8" opacity="0.42" transform="rotate(2 1759.8 1962.8)"/>
<rect x="1766.9" y="1961.6" width="21.0" height="5.5" rx="2.8" opacity="0.4" transform="rotate(2 1777.4 1964.3)"/>
<rect x="1590.3" y="2014.4" width="22.0" height="2.2" rx="1.1" opacity="0.45"/>
</g></g>
<rect x="1344.2" y="1940.6" width="454.4" height="81.8" fill="none" stroke="#1a1a1a" stroke-width="2.2"/>
<text x="844.0" y="1722.2" font-size="15.5">37</text>
<line x1="863.5" y1="1716.7" x2="882.0" y2="1716.7" stroke="#000" stroke-width="1.8"/>
<text x="844.0" y="1821.3" font-size="15.5">37</text>
<line x1="863.5" y1="1815.8" x2="882.0" y2="1815.8" stroke="#000" stroke-width="1.8"/>
<text x="844.0" y="1908.3" font-size="15.5">50</text>
<line x1="863.5" y1="1902.8" x2="882.0" y2="1902.8" stroke="#000" stroke-width="1.8"/>
<text x="1306.0" y="1999.0" font-size="15.5">25</text>
<line x1="1325.5" y1="1993.5" x2="1344.0" y2="1993.5" stroke="#000" stroke-width="1.8"/>
<text x="1806.5" y="1697.0" font-size="19.7">pERK1/2</text>
<text x="1806.5" y="1721.0" font-size="19.7">(T202/Y204)</text>
<text x="1806.5" y="1800.0" font-size="19.7">ERK1/2</text>
<text x="1806.5" y="1888.0" font-size="19.7">α-Tubulin</text>
<text x="1806.5" y="1968.6" font-size="19.7">GFP (GRK2)</text>
<text x="1806.5" y="2001.6" font-size="19.7">GFP</text>
</g>
<g id="panelI">
<text transform="translate(0.3 2029.8) scale(0.96 1)" font-size="56.8" font-weight="bold">I</text>
<line x1="478.6" y1="1977.6" x2="521.6" y2="1977.6" stroke="#f212f2" stroke-width="2.5"/>
<text x="545.9" y="1985.9" font-size="23.8">CB1R + WIN + Vehicle</text>
<line x1="478.6" y1="2010.2" x2="521.6" y2="2010.2" stroke="#1f78cc" stroke-width="2.5"/>
<text x="545.9" y="2019.0" font-size="23.8">CB1R + WIN + YM-254890</text>
<line x1="478.6" y1="2043.8" x2="521.6" y2="2043.8" stroke="#000" stroke-width="2.5"/>
<text x="545.9" y="2052.1" font-size="23.8">CB1R + WIN + GFP</text>
<line x1="478.6" y1="2077.5" x2="521.6" y2="2077.5" stroke="#1fc51f" stroke-width="2.5"/>
<text x="545.9" y="2085.2" font-size="23.8">CB1R + WIN + GFP-GRK2</text>
<line x1="205.4" y1="2368.8" x2="603.0" y2="2368.8" stroke="#000" stroke-width="1.9" stroke-dasharray="8.2 6"/>
<line x1="204.8" y1="2078.5" x2="204.8" y2="2462.0" stroke="#000" stroke-width="3.9"/>
<line x1="103.4" y1="2460.4" x2="601.8" y2="2460.4" stroke="#000" stroke-width="3.9"/>
<line x1="193.8" y1="2080.1" x2="204.8" y2="2080.1" stroke="#000" stroke-width="3"/>
<text x="193.5" y="2094.4" font-size="30" text-anchor="end">300</text>
<line x1="193.8" y1="2174.7" x2="204.8" y2="2174.7" stroke="#000" stroke-width="3"/>
<text x="193.5" y="2188.0" font-size="30" text-anchor="end">200</text>
<line x1="193.8" y1="2270.0" x2="204.8" y2="2270.0" stroke="#000" stroke-width="3"/>
<text x="193.5" y="2282.7" font-size="30" text-anchor="end">100</text>
<line x1="193.8" y1="2366.2" x2="204.8" y2="2366.2" stroke="#000" stroke-width="3"/>
<text x="193.5" y="2362.4" font-size="30" text-anchor="end">0</text>
<text x="193.5" y="2454.0" font-size="30" text-anchor="end">-100</text>
<line x1="105.0" y1="2460.4" x2="105.0" y2="2470.4" stroke="#000" stroke-width="3.9"/>
<text x="99.3" y="2501.8" font-size="30" text-anchor="middle">-500</text>
<line x1="205.4" y1="2460.4" x2="205.4" y2="2470.4" stroke="#000" stroke-width="3.9"/>
<text x="205.4" y="2501.8" font-size="30" text-anchor="middle">0</text>
<line x1="304.3" y1="2460.4" x2="304.3" y2="2470.4" stroke="#000" stroke-width="3.9"/>
<text x="304.3" y="2501.8" font-size="30" text-anchor="middle">500</text>
<line x1="402.6" y1="2460.4" x2="402.6" y2="2470.4" stroke="#000" stroke-width="3.9"/>
<text x="402.6" y="2501.8" font-size="30" text-anchor="middle">1000</text>
<line x1="501.9" y1="2460.4" x2="501.9" y2="2470.4" stroke="#000" stroke-width="3.9"/>
<text x="501.9" y="2501.8" font-size="30" text-anchor="middle">1500</text>
<line x1="600.2" y1="2460.4" x2="600.2" y2="2470.4" stroke="#000" stroke-width="3.9"/>
<text x="602.2" y="2501.8" font-size="30" text-anchor="middle">2000</text>
<polyline points="105.0,2369.8 134.5,2367.8 155.2,2371.4 175.9,2368.3 205.4,2366.2 217.3,2318.1 227.7,2304.1 239.1,2304.6 252.0,2296.3 263.9,2293.2 287.2,2302.6 297.5,2304.6 310.5,2313.9 323.4,2323.3 333.7,2331.0 351.9,2338.8 372.6,2349.6 382.9,2351.7 403.6,2359.5 419.1,2366.2 429.5,2373.4 450.2,2372.4 465.7,2377.6 489.0,2384.8 501.9,2385.3 517.4,2389.0 525.2,2387.9 538.1,2391.0 548.5,2391.6 566.6,2397.2 584.7,2396.7 600.2,2399.3" fill="none" stroke="#1fc51f" stroke-width="2" stroke-linejoin="round"/>
<polyline points="105.0,2364.6 134.5,2365.7 165.6,2366.2 205.4,2364.6 217.3,2287.0 230.3,2245.6 240.6,2222.4 252.0,2206.8 263.9,2196.5 287.2,2188.7 297.5,2188.7 310.5,2186.6 323.4,2186.6 346.7,2192.9 362.2,2191.8 382.9,2191.8 403.6,2195.4 424.3,2195.4 455.3,2200.1 465.7,2199.6 489.0,2204.2 501.9,2205.3 517.4,2208.4 527.8,2209.4 538.1,2212.0 548.5,2212.0 561.4,2213.6 574.4,2216.1 584.7,2217.2 600.2,2222.9" fill="none" stroke="#1f78cc" stroke-width="2" stroke-linejoin="round"/>
<polyline points="105.0,2366.2 134.5,2367.2 155.2,2365.2 175.9,2367.8 205.4,2366.2 217.3,2281.9 230.3,2219.8 240.6,2178.4 252.0,2142.1 263.9,2117.3 276.8,2107.0 287.2,2102.8 310.5,2102.8 323.4,2107.5 346.7,2122.5 362.2,2125.6 372.6,2128.7 382.9,2128.7 393.3,2137.0 419.1,2143.2 429.5,2142.1 455.3,2147.3 465.7,2146.3 489.0,2156.1 517.4,2156.6 538.1,2160.3 548.5,2160.3 574.4,2167.0 584.7,2165.4 595.1,2171.6 600.2,2172.2" fill="none" stroke="#f212f2" stroke-width="2" stroke-linejoin="round"/>
<polyline points="105.0,2367.8 124.2,2367.2 155.2,2368.8 170.8,2369.8 186.3,2366.7 205.4,2366.2 217.3,2222.4 230.3,2168.0 240.6,2134.4 252.0,2108.5 263.9,2093.5 289.8,2089.4 310.5,2090.4 331.2,2098.2 351.9,2105.9 372.6,2108.5 395.8,2115.2 408.8,2123.5 439.8,2127.7 465.7,2132.8 478.6,2140.6 501.9,2146.3 517.4,2150.9 527.8,2152.5 538.1,2158.7 548.5,2156.6 561.4,2158.7 574.4,2163.9 600.2,2167.0" fill="none" stroke="#000" stroke-width="2" stroke-linejoin="round"/>
<text x="372.5" y="2549.5" font-size="31.7" text-anchor="middle">Time (s)</text>
<text x="114.0" y="2231.5" font-size="31" text-anchor="middle" transform="rotate(-90 114.0 2231.5)">Response (pm)</text>
</g>
<g id="panelJ">
<text transform="translate(869.2 2029.8) scale(0.96 1)" font-size="56.8" font-weight="bold">J</text>
<rect x="1066.1" y="2250.6" width="59.0" height="194.8" fill="#767171" stroke="#111" stroke-width="3.3"/>
<rect x="1163.4" y="2196.0" width="58.3" height="249.4" fill="#e06666" stroke="#111" stroke-width="3.3"/>
<line x1="1096.3" y1="2229.6" x2="1096.3" y2="2263.9" stroke="#000" stroke-width="3"/>
<line x1="1080.3" y1="2229.6" x2="1112.3" y2="2229.6" stroke="#000" stroke-width="3.1"/>
<line x1="1080.3" y1="2263.9" x2="1112.3" y2="2263.9" stroke="#000" stroke-width="3.1"/>
<line x1="1192.5" y1="2178.6" x2="1192.5" y2="2207.4" stroke="#000" stroke-width="3"/>
<line x1="1176.5" y1="2178.6" x2="1208.5" y2="2178.6" stroke="#000" stroke-width="3.1"/>
<line x1="1176.5" y1="2207.4" x2="1208.5" y2="2207.4" stroke="#000" stroke-width="3.1"/>
<circle cx="1095.6" cy="2186.5" r="7.5" fill="#000"/>
<circle cx="1089.2" cy="2243.1" r="7.5" fill="#000"/>
<circle cx="1102.2" cy="2244.4" r="7.5" fill="#000"/>
<circle cx="1089.0" cy="2277.5" r="7.5" fill="#000"/>
<circle cx="1102.0" cy="2282.8" r="7.5" fill="#000"/>
<rect x="1191.9" y="2145.9" width="13.8" height="13.8" fill="#000"/>
<rect x="1179.1" y="2155.5" width="13.8" height="13.8" fill="#000"/>
<rect x="1185.6" y="2172.9" width="13.8" height="13.8" fill="#000"/>
<rect x="1178.7" y="2196.5" width="13.8" height="13.8" fill="#000"/>
<rect x="1191.7" y="2206.4" width="13.8" height="13.8" fill="#000"/>
<rect x="1185.6" y="2238.2" width="13.8" height="13.8" fill="#000"/>
<line x1="1031.6" y1="2271.3" x2="1258.5" y2="2271.3" stroke="#000" stroke-width="1.8" stroke-dasharray="7.2 5.8"/>
<line x1="1031.6" y1="2097.1" x2="1031.6" y2="2447.1" stroke="#000" stroke-width="3.9"/>
<line x1="1017.5" y1="2445.4" x2="1258.5" y2="2445.4" stroke="#000" stroke-width="3.9"/>
<line x1="1017.6" y1="2098.8" x2="1031.6" y2="2098.8" stroke="#000" stroke-width="3"/>
<text x="1014.6" y="2109.6" font-size="27.5" text-anchor="end">200</text>
<line x1="1017.6" y1="2185.5" x2="1031.6" y2="2185.5" stroke="#000" stroke-width="3"/>
<text x="1014.6" y="2196.3" font-size="27.5" text-anchor="end">150</text>
<line x1="1017.6" y1="2271.8" x2="1031.6" y2="2271.8" stroke="#000" stroke-width="3"/>
<text x="1014.6" y="2282.6" font-size="27.5" text-anchor="end">100</text>
<line x1="1017.6" y1="2358.5" x2="1031.6" y2="2358.5" stroke="#000" stroke-width="3"/>
<text x="1014.6" y="2369.3" font-size="27.5" text-anchor="end">50</text>
<line x1="1017.6" y1="2445.4" x2="1031.6" y2="2445.4" stroke="#000" stroke-width="3"/>
<text x="1009.1" y="2455.2" font-size="27.5" text-anchor="end">0</text>
<line x1="1095.1" y1="2445.4" x2="1095.1" y2="2458.4" stroke="#000" stroke-width="3.4"/>
<text x="1094.1" y="2485.4" font-size="28.4" text-anchor="end" transform="rotate(-45 1094.1 2485.4)">BiP-WT</text>
<line x1="1192.6" y1="2445.4" x2="1192.6" y2="2458.4" stroke="#000" stroke-width="3.4"/>
<text x="1194.1" y="2480.4" font-size="28.4" text-anchor="end" transform="rotate(-45 1194.1 2480.4)">BiP-HET</text>
<text x="1138.7" y="2092.0" font-size="24" text-anchor="middle" stroke="#000" stroke-width="0.45">#</text>
<line x1="1077.7" y1="2102.7" x2="1203.0" y2="2102.7" stroke="#000" stroke-width="2"/>
<text x="1193.8" y="2141.5" font-size="30" text-anchor="middle" stroke="#000" stroke-width="0.45">*</text>
<text x="932.5" y="2286.0" font-size="30" text-anchor="middle" transform="rotate(-90 932.5 2286.0)"><tspan>Gα</tspan><tspan font-size="20" dy="7">q/11</tspan><tspan dy="-7"> stimulation (%)</tspan></text>
</g>
</svg>
</body></html>
